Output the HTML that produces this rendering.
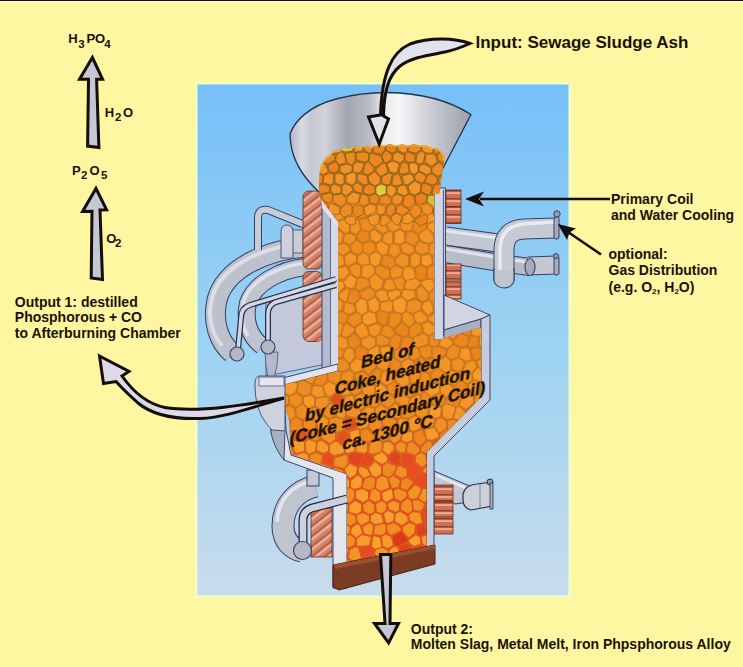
<!DOCTYPE html>
<html><head><meta charset="utf-8"><style>
html,body{margin:0;padding:0;background:#FEF6A0;}
body{width:743px;height:667px;overflow:hidden;}
svg{display:block;}
text{font-family:"Liberation Sans",sans-serif;font-weight:bold;fill:#1a1208;}
</style></head><body>
<svg width="743" height="667" viewBox="0 0 743 667">
<defs>
<linearGradient id="sky" x1="0" y1="0" x2="0" y2="1">
<stop offset="0" stop-color="#76C0F8"/>
<stop offset="0.5" stop-color="#9CD2F2"/>
<stop offset="1" stop-color="#C8DCEC"/>
</linearGradient>
<linearGradient id="funnel" gradientUnits="userSpaceOnUse" x1="289" y1="0" x2="471" y2="0">
<stop offset="0" stop-color="#B0B4C0"/>
<stop offset="0.07" stop-color="#D8DAE2"/>
<stop offset="0.12" stop-color="#C4C8D2"/>
<stop offset="0.2" stop-color="#D0D2DA"/>
<stop offset="0.32" stop-color="#A2A6B2"/>
<stop offset="0.44" stop-color="#B8BCC6"/>
<stop offset="0.52" stop-color="#EAEAEE"/>
<stop offset="0.6" stop-color="#F6F6F8"/>
<stop offset="0.68" stop-color="#E4E4E8"/>
<stop offset="0.82" stop-color="#C0C4CC"/>
<stop offset="1" stop-color="#9CA0AC"/>
</linearGradient>
<linearGradient id="pipe" x1="0" y1="0" x2="0" y2="1">
<stop offset="0" stop-color="#E8EAF0"/>
<stop offset="0.5" stop-color="#B8BCC8"/>
<stop offset="1" stop-color="#9498A8"/>
</linearGradient>
<pattern id="coke" x="0" y="0" width="24" height="22" patternUnits="userSpaceOnUse">
<rect width="24" height="22" fill="#B86A22"/>
<path d="M1 1h10v9h-10z" fill="#F0942C" stroke="#C07428" stroke-width="1"/>
<path d="M13 0h10v10h-10z" fill="#EC8C28"/>
<path d="M0 12h11v9h-11z" fill="#F29A30"/>
<path d="M12 11h11v10h-11z" fill="#EE9030"/>
</pattern>
<pattern id="cokehot" x="0" y="0" width="24" height="22" patternUnits="userSpaceOnUse">
<rect width="24" height="22" fill="#D8401C"/>
<path d="M1 1h10v9h-10z" fill="#F0942C"/>
<path d="M13 0h10v10h-10z" fill="#EC8228"/>
<path d="M0 12h11v9h-11z" fill="#F29A30"/>
<path d="M12 11h11v10h-11z" fill="#E8702A"/>
</pattern>
<pattern id="copper" x="0" y="0" width="8" height="8" patternUnits="userSpaceOnUse" patternTransform="rotate(-38)">
<rect width="8" height="8" fill="#D4826A"/><rect width="8" height="2.2" fill="#EEB096"/><rect y="5.8" width="8" height="1.1" fill="#9A4E38"/>
</pattern>
<pattern id="copper2" x="0" y="0" width="6" height="8" patternUnits="userSpaceOnUse">
<rect width="6" height="8" fill="#CC7056"/><rect width="6" height="2.2" fill="#EEA488"/><rect y="6" width="6" height="1.4" fill="#94442C"/>
</pattern>
<linearGradient id="gapgrad" gradientUnits="userSpaceOnUse" x1="0" y1="400" x2="0" y2="480"><stop offset="0" stop-color="#C87820"/><stop offset="1" stop-color="#DE5420"/></linearGradient>
</defs>

<!-- top dark line -->
<rect x="0" y="0" width="743" height="1" fill="#1a1208"/>
<rect x="0" y="1" width="743" height="1.5" fill="#FFFCE0"/>

<!-- sky rect -->
<rect x="194.5" y="81.5" width="378" height="517" fill="#FBFAA8"/>
<rect x="195.5" y="82.5" width="375" height="515" fill="#F4FCCC"/>
<rect x="197.5" y="84.5" width="371" height="511" fill="url(#sky)"/>

<!-- APPARATUS -->
<g id="app">
<!-- ===== back pipes left ===== -->
<g fill="none" stroke-linecap="butt">
<path d="M305,247 C270,250 226,266 217,300 C212,322 219,342 232,353" stroke="#34406A" stroke-width="21"/>
<path d="M305,247 C270,250 226,266 217,300 C212,322 219,342 232,353" stroke="#BDC1CC" stroke-width="19"/>
<path d="M305,243 C270,246 222,262 212,298 C207,318 212,334 222,346" stroke="#DCDEE6" stroke-width="4"/>
<path d="M305,267 C280,270 255,283 248,303 C244,320 249,336 262,346" stroke="#34406A" stroke-width="18"/>
<path d="M305,267 C280,270 255,283 248,303 C244,320 249,336 262,346" stroke="#C0C4CE" stroke-width="16"/>
<path d="M305,263 C280,266 252,279 244,300 C240,314 242,326 248,336" stroke="#E0E2EA" stroke-width="3.5"/>
<!-- L pipe -->
<path d="M258,250 L258,218 Q258,208 268,210 L305,225" stroke="#34406A" stroke-width="8"/>
<path d="M258,250 L258,218 Q258,208 268,210 L305,225" stroke="#C8CCD6" stroke-width="6"/>
</g>
<!-- small box -->
<rect x="292" y="230" width="11" height="23" fill="#C8CCD8" stroke="#4A5274" stroke-width="0.9"/>
<path d="M281,232 Q281,225 287,225 Q293,225 293,232 L293,258 L281,258 Z" fill="#CDD0DC" stroke="#4A5274" stroke-width="1"/>

<!-- lower-left box behind -->
<path d="M266,298 L322,292 L336,290 L336,362 L282,373 L266,376 Z" fill="#C4C8DC" stroke="#5A6282" stroke-width="1"/>
<path d="M265,352 L278,352 L277,366 L274,378 L268,378 L266,366 Z" fill="#B4B8CC" stroke="#4A5274" stroke-width="0.8"/>

<!-- ===== right pipes ===== -->
<g fill="none">
<path d="M446,254 L500,263 L530,267" stroke="#34406A" stroke-width="18"/>
<path d="M446,254 L500,263 L530,267" stroke="#B8BCC8" stroke-width="16"/>
<path d="M446,249 L500,258 L528,262" stroke="#E0E2EA" stroke-width="3"/>
<path d="M446,236 L498,243" stroke="#34406A" stroke-width="19"/>
<path d="M446,236 L498,243" stroke="#C4C8D2" stroke-width="17"/>
<path d="M446,231 L498,238" stroke="#E6E8EE" stroke-width="3"/>
<path d="M528,266 L557,265" stroke="#34406A" stroke-width="19"/>
<path d="M528,266 L557,265" stroke="#C4C8D2" stroke-width="17"/>
<path d="M504,280 L504,250 Q504,230 524,229 L556,228" stroke="#34406A" stroke-width="21"/>
<path d="M504,280 L504,250 Q504,230 524,229 L556,228" stroke="#C6CAD4" stroke-width="19"/>
<path d="M500,276 L500,250 Q500,226 524,224 L554,222" stroke="#E8EAF0" stroke-width="3.5"/>
</g>
<ellipse cx="504" cy="280" rx="10" ry="8" fill="#C0C4CE" stroke="#34406A" stroke-width="1.1"/>
<rect x="494" y="270" width="20" height="11" fill="#C0C4CE"/>
<line x1="494" y1="268" x2="494" y2="281" stroke="#34406A" stroke-width="1.1"/>
<line x1="514" y1="268" x2="514" y2="281" stroke="#34406A" stroke-width="1.1"/>
<ellipse cx="530" cy="267" rx="5" ry="8.5" fill="#A8ACBA" stroke="#34406A" stroke-width="1.1"/>
<rect x="554" y="217" width="5" height="22" rx="2" fill="#A8ACBA" stroke="#34406A"/>
<rect x="554" y="256" width="5" height="19" rx="2" fill="#A8ACBA" stroke="#34406A"/>
<circle cx="557" cy="214" r="3.2" fill="#9498A8" stroke="#34406A"/>
<circle cx="556" cy="256" r="2.5" fill="#9498A8" stroke="#34406A"/>

<!-- lower right pipe -->
<path d="M434,471 L472,487 L470,502 L455,504 L434,490 Z" fill="#C4C8D2" stroke="#34406A" stroke-width="1"/>
<path d="M436,475 L468,489" stroke="#E6E8EE" stroke-width="3"/>
<path d="M463,494 Q465,485 477,484 L492,482 L492,506 L471,510 Q463,508 463,500 Z" fill="#CDD0DA" stroke="#2A3050" stroke-width="1.2"/>
<path d="M480,484 L480,508" stroke="#6A7090" stroke-width="0.8"/>
<circle cx="490" cy="482" r="3" fill="#9498A8" stroke="#2A3050" stroke-width="1"/>
<rect x="490" y="483" width="3" height="26" fill="#A8ACBA" stroke="#2A3050" stroke-width="0.8"/>

<!-- lower left pipe -->
<g fill="none">
<path d="M316,486 C296,490 283,506 283,526 C283,541 292,549 302,551" stroke="#34406A" stroke-width="23"/>
<path d="M316,486 C296,490 283,506 283,526 C283,541 292,549 302,551" stroke="#C0C4CE" stroke-width="21"/>
<path d="M316,480 C292,484 278,500 277,522" stroke="#E4E6EE" stroke-width="3.5"/>
</g>
<rect x="307" y="470" width="12" height="16" fill="#C4C8D2" stroke="#34406A" stroke-width="1"/>

<!-- ===== coils ===== -->
<g stroke="#6A2A14" stroke-width="0.8">
<rect x="303" y="191" width="19.5" height="78" rx="6" fill="url(#copper)"/>
<rect x="303" y="271.5" width="19.5" height="70" rx="6" fill="url(#copper)"/>
<rect x="446" y="190" width="15" height="16.5" fill="url(#copper2)"/>
<rect x="446" y="207" width="15" height="16.5" fill="url(#copper2)"/>
<rect x="446" y="264" width="15" height="17" fill="url(#copper2)"/>
<rect x="446" y="282" width="15" height="17" fill="url(#copper2)"/>
<rect x="311" y="508" width="21" height="49" fill="url(#copper)"/>
<rect x="434" y="485" width="19" height="15.5" fill="url(#copper2)"/>
<rect x="434" y="501.5" width="19" height="15.5" fill="url(#copper2)"/>
<rect x="434" y="518" width="19" height="16" fill="url(#copper2)"/>
</g>

<!-- ===== funnel ===== -->
<path d="M290,134 C295,120 310,106 336,99 C355,94 370,92.5 387,92.5 C420,93 450,101 471,114.5 L442,170 L437,192 L319,192 C306,180 296,166 292,150 C291,145 290,140 290,134 Z" fill="url(#funnel)" stroke="#26304C" stroke-width="1.3"/>

<!-- ===== walls ===== -->
<g stroke="#3E4668" stroke-width="1">
<!-- left column wall -->
<path d="M322,196 L338,196 L338,366 L322,370 Z" fill="#B4BACE"/>
<path d="M330.5,205 L338,205 L338,366 L330.5,368 Z" fill="#D6DAE6" stroke="none"/>
<line x1="330.5" y1="210" x2="330.5" y2="367" stroke="#4A5274" stroke-width="0.8"/>
<path d="M321,198 L338,221 L338,228 L322,208 Z" fill="#E0E0F2" stroke="none"/>
<!-- right column wall -->
<rect x="434" y="188" width="11.5" height="152" fill="#D2D6E4"/>
<line x1="443.5" y1="190" x2="443.5" y2="336" stroke="#5A6282" stroke-width="1.2"/>
<!-- right step top face -->
<path d="M444,295 L490,315 L481,319 L444,330 Z" fill="#D2D4E2"/>
<path d="M444,330 L481,319 L481,328 L444,339 Z" fill="#A8AEC4"/>
<!-- right outer wall -->
<path d="M481,319 L490,315 L490,400 L434,456 L434,563 L426.5,563 L426.5,452 L481,397 Z" fill="#C6CCDC"/>
<!-- left horizontal band & wide wall -->
<path d="M271,381 L338,364 L338,371 L284,385 L286,430 L291,455 L347,474 L347,588 L333,588 L333,478 L284,460 L271,432 Z" fill="#E2E5EE"/>
<path d="M271,388 L284,385 L285,430 L284,460 C279,454 273,444 271,432 Z" fill="#A8AEC4"/>
</g>

<!-- ===== coke ===== -->
<clipPath id="cokeclip"><path id="cokepath" d="M319,194 L320,169 C322,162 326,157 331,154 Q334,149 339,151 Q343,146 349,149 Q354,145 360,148 Q366,144 372,147 Q378,143 384,146 Q390,143 396,146 Q402,143 408,146 Q414,143 420,146 Q427,144 432,148 Q439,148 441,152 Q445,154 444,160 L439,194 L434,194 L434,341 L481,327.5 L481,397 L426.5,452 L426.5,547 L347,564 L347,474 L291,454 L289,420 L284,404 L284,385 L338,371 L338,222 L321,199 Z"/></clipPath>
<g clip-path="url(#cokeclip)">
<rect x="270" y="140" width="230" height="440" fill="url(#gapgrad)"/>
<path d="M291,147 L291,145 L290,140 L285,138 L280,142 L279,146 L284,150Z" fill="#F09326"/>
<path d="M297,148 L302,147 L303,145 L302,139 L297,138 L292,141 L293,146Z" fill="#F19427"/>
<path d="M310,136 L308,136 L304,140 L305,146 L308,148 L313,147 L315,141Z" fill="#F29729"/>
<path d="M317,141 L315,147 L322,152 L324,152 L327,148 L327,142 L323,139Z" fill="#F39829"/>
<path d="M336,138 L329,141 L329,142 L330,147 L336,149 L341,146 L341,141 L341,139Z" fill="#F39829"/>
<path d="M352,139 L348,137 L343,140 L343,147 L349,151 L353,148Z" fill="#F39929"/>
<path d="M355,138 L354,139 L355,147 L365,148 L364,138 L363,136 L361,136Z" fill="#F69E2D"/>
<path d="M381,142 L376,136 L367,138 L367,147 L378,148 L380,147Z" fill="#EE8E23"/>
<path d="M383,142 L382,147 L388,151 L395,148 L394,140 L389,138Z" fill="#F19427"/>
<path d="M403,137 L396,141 L397,148 L402,150 L407,148 L407,139Z" fill="#ED8D23"/>
<path d="M422,140 L421,138 L415,136 L410,139 L409,140 L410,148 L414,150 L420,149Z" fill="#EF9024"/>
<path d="M424,138 L422,149 L425,150 L432,148 L432,139 L427,137Z" fill="#F09225"/>
<path d="M435,138 L434,139 L435,148 L440,151 L445,148 L446,139 L441,136Z" fill="#E0CC3A"/>
<path d="M458,150 L458,139 L455,138 L449,140 L448,149 L452,152Z" fill="#EB881F"/>
<path d="M461,139 L460,141 L460,150 L466,152 L469,149 L469,140 L466,138Z" fill="#EE8F23"/>
<path d="M480,151 L485,147 L484,143 L478,139 L471,140 L471,149Z" fill="#EF9024"/>
<path d="M494,135 L492,135 L486,143 L487,147 L490,148 L497,147 L499,141Z" fill="#E5D740"/>
<path d="M279,161 L284,159 L285,157 L284,152 L278,148 L272,152 L271,155Z" fill="#ED8C22"/>
<path d="M291,161 L295,159 L296,150 L293,148 L286,152 L287,158Z" fill="#EF9024"/>
<path d="M304,161 L307,160 L307,151 L303,148 L298,150 L297,158 L298,160Z" fill="#F29729"/>
<path d="M314,162 L322,158 L322,155 L313,149 L309,151 L309,159Z" fill="#F49A2A"/>
<path d="M324,157 L329,162 L336,159 L336,157 L335,151 L329,149 L324,154Z" fill="#EB881F"/>
<path d="M338,157 L343,159 L348,157 L349,154 L341,148 L337,151Z" fill="#F19427"/>
<path d="M356,149 L351,153 L351,157 L356,162 L364,159 L364,151 L363,150Z" fill="#EF9125"/>
<path d="M367,149 L366,150 L366,159 L369,161 L375,158 L377,151 L376,149Z" fill="#F59C2B"/>
<path d="M387,153 L381,149 L380,149 L379,150 L377,158 L383,163 L385,163 L388,160Z" fill="#DEC837"/>
<path d="M390,152 L389,154 L391,160 L396,162 L400,160 L401,151 L396,150Z" fill="#F69F2D"/>
<path d="M408,162 L410,162 L413,158 L413,152 L409,149 L403,152 L402,159 L403,160Z" fill="#EB8920"/>
<path d="M414,157 L420,161 L425,157 L423,152 L421,150 L415,152Z" fill="#F29728"/>
<path d="M427,151 L426,153 L427,157 L431,161 L438,156 L438,153 L434,149Z" fill="#F59C2B"/>
<path d="M451,161 L452,159 L450,153 L446,150 L440,153 L440,157 L445,163Z" fill="#F39829"/>
<path d="M464,159 L465,155 L460,152 L453,154 L453,160 L457,162Z" fill="#F59D2C"/>
<path d="M478,160 L479,159 L479,154 L479,152 L471,151 L467,154 L467,159 L470,162Z" fill="#F3992A"/>
<path d="M481,160 L483,162 L491,159 L489,150 L486,149 L482,152Z" fill="#EE8E23"/>
<path d="M270,171 L277,169 L278,163 L271,158 L265,165 L266,169Z" fill="#F29628"/>
<path d="M279,168 L280,170 L285,172 L290,168 L290,163 L286,160 L281,162Z" fill="#F09326"/>
<path d="M301,174 L303,163 L297,161 L293,162 L292,169 L299,174Z" fill="#F09326"/>
<path d="M304,172 L304,174 L311,175 L315,169 L314,164 L309,162 L305,163Z" fill="#F09326"/>
<path d="M317,168 L324,172 L329,169 L328,163 L323,160 L316,163Z" fill="#EF9125"/>
<path d="M331,163 L330,164 L332,169 L335,172 L340,171 L341,161 L337,160Z" fill="#EE8F23"/>
<path d="M354,165 L350,159 L344,161 L342,171 L349,174 L354,169Z" fill="#ED8D23"/>
<path d="M370,172 L370,170 L368,164 L365,162 L356,165 L356,169 L364,174Z" fill="#EC8A21"/>
<path d="M372,170 L375,172 L381,171 L382,165 L377,160 L375,160 L370,163Z" fill="#F19427"/>
<path d="M387,175 L389,175 L396,170 L395,164 L389,162 L385,165 L383,171Z" fill="#ED8D23"/>
<path d="M409,165 L401,162 L397,164 L398,169 L403,173 L410,170Z" fill="#F19426"/>
<path d="M411,164 L412,171 L419,169 L419,162 L414,160Z" fill="#F69F2D"/>
<path d="M422,162 L422,169 L429,170 L430,162 L426,160Z" fill="#F09225"/>
<path d="M442,172 L444,165 L439,159 L438,159 L433,163 L432,169Z" fill="#EF9125"/>
<path d="M452,173 L456,171 L456,165 L452,162 L446,165 L445,171 L446,172Z" fill="#F69E2D"/>
<path d="M458,171 L459,172 L467,174 L469,172 L469,164 L465,161 L459,164Z" fill="#ED8C22"/>
<path d="M480,162 L471,164 L471,172 L477,173 L482,169 L482,164Z" fill="#F29628"/>
<path d="M484,168 L492,172 L497,167 L498,165 L492,161 L484,164Z" fill="#F69E2D"/>
<path d="M274,182 L276,183 L283,181 L283,174 L278,171 L273,173 L272,174Z" fill="#F29628"/>
<path d="M298,177 L297,176 L291,171 L285,174 L286,181 L289,183 L296,182Z" fill="#F59D2C"/>
<path d="M303,175 L300,177 L298,182 L304,188 L312,181 L310,177Z" fill="#EF9125"/>
<path d="M317,183 L322,182 L323,175 L317,171 L312,177 L314,181Z" fill="#F69E2D"/>
<path d="M324,181 L324,182 L328,184 L333,181 L334,173 L330,171 L325,174Z" fill="#F49B2B"/>
<path d="M340,185 L342,185 L348,180 L347,176 L340,173 L336,174 L335,181Z" fill="#EB8820"/>
<path d="M354,184 L362,183 L363,177 L355,171 L349,176 L350,180Z" fill="#EB8920"/>
<path d="M364,183 L367,186 L374,183 L373,173 L371,173 L366,176Z" fill="#EB881F"/>
<path d="M382,185 L388,181 L387,178 L382,173 L376,174 L376,183Z" fill="#ED8C22"/>
<path d="M390,181 L391,183 L400,181 L402,174 L397,172 L389,177Z" fill="#E0CD3A"/>
<path d="M413,181 L414,179 L412,173 L410,172 L404,175 L403,181 L405,184Z" fill="#F59D2C"/>
<path d="M426,181 L428,174 L427,172 L421,170 L415,173 L416,180 L420,184 L422,184Z" fill="#EF9024"/>
<path d="M432,172 L430,173 L428,181 L436,185 L440,184 L441,175Z" fill="#F49B2B"/>
<path d="M452,176 L451,175 L443,174 L442,184 L446,186 L452,183Z" fill="#F59C2B"/>
<path d="M460,185 L465,183 L466,177 L457,173 L454,175 L454,182Z" fill="#F29628"/>
<path d="M479,184 L480,182 L476,175 L470,174 L468,176 L467,183 L471,186Z" fill="#F59D2C"/>
<path d="M483,183 L485,183 L490,180 L490,174 L484,170 L478,175Z" fill="#EF9024"/>
<path d="M282,197 L284,197 L287,193 L288,185 L285,183 L276,186 L278,194Z" fill="#F59C2C"/>
<path d="M297,184 L290,185 L289,193 L298,196 L302,193 L302,190Z" fill="#ED8D22"/>
<path d="M317,185 L316,184 L313,183 L305,190 L305,193 L311,197 L315,196Z" fill="#EE8F24"/>
<path d="M320,196 L328,192 L327,186 L323,184 L318,185 L318,195Z" fill="#EF9024"/>
<path d="M330,192 L337,196 L340,194 L340,187 L333,183 L329,186Z" fill="#EB8920"/>
<path d="M350,197 L352,196 L354,186 L349,182 L342,187 L342,193 L343,194Z" fill="#F69F2D"/>
<path d="M356,186 L355,187 L354,196 L364,198 L367,194 L366,188 L362,185Z" fill="#F09226"/>
<path d="M378,195 L380,188 L380,186 L375,185 L368,188 L370,194 L375,196Z" fill="#EB881F"/>
<path d="M381,195 L389,196 L392,192 L390,185 L389,184 L382,187 L381,193Z" fill="#F49B2B"/>
<path d="M393,191 L404,195 L405,193 L404,186 L401,183 L393,184 L392,186Z" fill="#F69E2C"/>
<path d="M419,192 L420,186 L416,182 L406,187 L406,193 L407,194 L414,195Z" fill="#EC8B21"/>
<path d="M427,195 L432,194 L434,187 L434,186 L427,183 L422,186 L421,191Z" fill="#F19527"/>
<path d="M434,193 L434,195 L439,198 L445,195 L446,194 L445,188 L441,185 L437,187Z" fill="#EE8F24"/>
<path d="M459,188 L459,187 L453,184 L447,188 L448,195 L451,196 L457,194Z" fill="#ED8D23"/>
<path d="M466,198 L471,195 L470,188 L466,185 L462,187 L460,193 L460,194Z" fill="#ED8C22"/>
<path d="M483,187 L481,186 L473,188 L473,195 L479,198 L482,196Z" fill="#F59D2C"/>
<path d="M491,183 L485,186 L485,196 L492,198 L497,193 L497,187Z" fill="#F39829"/>
<path d="M271,206 L272,208 L278,208 L283,203 L282,199 L277,196 L272,198Z" fill="#F08F22"/>
<path d="M285,198 L285,203 L293,207 L295,206 L296,197 L288,195Z" fill="#EE8A1F"/>
<path d="M308,204 L309,199 L303,195 L299,198 L297,207 L300,209Z" fill="#EF8C20"/>
<path d="M320,199 L316,197 L311,200 L311,204 L316,210 L323,206Z" fill="#F69B29"/>
<path d="M323,197 L322,199 L326,206 L330,207 L335,203 L335,198 L329,195Z" fill="#EF8C20"/>
<path d="M337,198 L337,203 L345,208 L349,205 L350,199 L349,198 L341,196Z" fill="#F19123"/>
<path d="M351,204 L352,206 L358,209 L363,204 L363,201 L362,200 L353,198Z" fill="#F69A29"/>
<path d="M376,205 L376,203 L375,198 L369,196 L365,200 L365,203 L369,208Z" fill="#EE8B1F"/>
<path d="M388,199 L387,198 L380,196 L377,198 L379,204 L382,207 L388,205Z" fill="#F49727"/>
<path d="M390,197 L391,205 L395,207 L400,205 L402,198 L402,196 L394,194Z" fill="#EC861D"/>
<path d="M405,196 L403,205 L409,209 L415,208 L414,197Z" fill="#F39526"/>
<path d="M426,197 L421,193 L416,197 L417,208 L420,210 L426,207Z" fill="#F49727"/>
<path d="M429,197 L428,198 L428,206 L432,208 L437,206 L438,200 L433,196Z" fill="#F59827"/>
<path d="M439,205 L439,206 L445,209 L451,203 L450,198 L447,197 L440,199Z" fill="#F69B29"/>
<path d="M465,205 L465,200 L458,195 L452,199 L453,203 L458,207Z" fill="#F39525"/>
<path d="M473,197 L467,200 L467,206 L469,208 L478,205 L478,200Z" fill="#F69B29"/>
<path d="M485,198 L480,200 L480,205 L486,211 L492,204 L491,200Z" fill="#EE8A1F"/>
<path d="M292,210 L292,208 L284,205 L279,210 L282,217 L284,219 L287,218Z" fill="#F19023"/>
<path d="M296,209 L294,210 L289,218 L290,219 L297,221 L301,218 L299,211Z" fill="#ED891E"/>
<path d="M310,206 L309,206 L301,210 L304,218 L310,219 L314,215 L315,212Z" fill="#EC861C"/>
<path d="M325,208 L317,212 L317,215 L323,218 L329,216 L329,209Z" fill="#F08E21"/>
<path d="M337,205 L335,205 L331,209 L332,216 L338,220 L343,218 L344,211Z" fill="#F39525"/>
<path d="M346,210 L346,218 L350,219 L357,218 L357,212 L351,207 L350,207Z" fill="#F49626"/>
<path d="M359,217 L361,218 L368,216 L368,210 L365,206 L363,206 L359,211Z" fill="#EB841B"/>
<path d="M380,209 L377,206 L371,210 L371,217 L375,219 L379,218Z" fill="#F69A29"/>
<path d="M390,207 L382,209 L381,217 L382,218 L385,219 L393,216 L394,209Z" fill="#ED891F"/>
<path d="M402,207 L400,207 L396,210 L396,216 L400,220 L405,217 L407,211Z" fill="#EE8B1F"/>
<path d="M417,210 L409,211 L408,217 L413,220 L414,220 L419,216 L419,212Z" fill="#F49727"/>
<path d="M434,220 L434,218 L431,210 L427,209 L421,212 L421,216 L427,223Z" fill="#F59928"/>
<path d="M441,220 L445,218 L444,211 L438,208 L434,209 L433,211 L436,218Z" fill="#F39526"/>
<path d="M446,216 L447,218 L455,219 L457,208 L453,205 L451,205 L446,211Z" fill="#EE8B20"/>
<path d="M466,208 L459,209 L457,217 L458,219 L466,220 L469,218 L469,211Z" fill="#F08F22"/>
<path d="M484,214 L484,212 L478,207 L471,211 L471,217 L472,218 L477,219Z" fill="#F59827"/>
<path d="M487,213 L487,215 L493,220 L497,217 L498,209 L493,206Z" fill="#EF8C20"/>
<path d="M282,231 L283,229 L283,221 L281,219 L271,223 L271,229 L276,232Z" fill="#F49727"/>
<path d="M288,220 L285,221 L285,230 L290,233 L295,230 L296,224Z" fill="#F49626"/>
<path d="M304,220 L298,223 L298,230 L298,231 L303,233 L311,229 L309,222Z" fill="#F08F22"/>
<path d="M316,217 L315,217 L311,222 L313,229 L316,231 L322,230 L322,228 L322,220Z" fill="#F59928"/>
<path d="M335,227 L336,222 L331,217 L325,219 L324,221 L324,229 L331,230Z" fill="#EF8D21"/>
<path d="M345,220 L338,222 L337,226 L345,233 L348,232 L349,230 L349,222Z" fill="#F39526"/>
<path d="M352,221 L351,222 L351,231 L356,234 L360,229 L358,221 L357,220Z" fill="#F29324"/>
<path d="M370,218 L360,220 L362,229 L369,231 L373,228 L374,221Z" fill="#EE8B20"/>
<path d="M380,220 L376,221 L375,227 L383,233 L387,231 L387,230 L384,221Z" fill="#F19023"/>
<path d="M395,218 L393,218 L386,221 L390,230 L393,231 L399,228 L399,222Z" fill="#F29224"/>
<path d="M405,231 L411,230 L413,223 L412,222 L406,219 L401,222 L401,228Z" fill="#F19023"/>
<path d="M426,228 L426,225 L420,218 L415,222 L413,230 L418,233Z" fill="#EC861D"/>
<path d="M440,230 L441,223 L440,221 L436,221 L428,225 L428,228 L434,233Z" fill="#F69B29"/>
<path d="M447,232 L448,232 L454,228 L453,221 L446,219 L443,221 L443,229Z" fill="#F69B29"/>
<path d="M457,221 L456,222 L456,228 L461,232 L466,230 L466,222Z" fill="#EB841C"/>
<path d="M477,221 L471,219 L468,222 L468,230 L473,233 L474,233 L479,228Z" fill="#F69A29"/>
<path d="M488,229 L491,228 L491,222 L485,216 L479,219 L479,221 L481,227Z" fill="#F19023"/>
<path d="M288,236 L284,232 L278,234 L276,243 L282,245 L288,240Z" fill="#EC871D"/>
<path d="M296,245 L298,246 L302,242 L302,235 L296,232 L290,236 L291,240Z" fill="#F49727"/>
<path d="M304,241 L305,243 L311,245 L315,242 L315,233 L311,231 L305,235Z" fill="#F08E21"/>
<path d="M317,241 L323,244 L330,241 L330,233 L324,231 L318,233Z" fill="#F39525"/>
<path d="M341,242 L343,234 L335,229 L332,232 L333,241 L337,244Z" fill="#F49727"/>
<path d="M355,240 L355,236 L350,234 L345,235 L344,241 L345,242 L350,244Z" fill="#F19023"/>
<path d="M362,242 L369,240 L368,232 L361,231 L357,236 L358,239Z" fill="#EB851C"/>
<path d="M371,239 L376,242 L380,240 L381,235 L374,230 L371,232Z" fill="#F49727"/>
<path d="M384,235 L383,241 L389,244 L392,243 L392,233 L389,232Z" fill="#F39425"/>
<path d="M404,233 L400,230 L395,233 L395,243 L401,244 L404,241Z" fill="#F59928"/>
<path d="M414,245 L415,244 L418,240 L417,235 L412,232 L407,233 L406,241Z" fill="#EE8A1F"/>
<path d="M429,243 L433,241 L433,235 L427,229 L420,234 L419,235 L421,240Z" fill="#F49626"/>
<path d="M440,244 L448,240 L447,234 L442,231 L435,236 L435,241Z" fill="#F59828"/>
<path d="M454,230 L449,235 L450,241 L459,239 L460,234 L455,230Z" fill="#EF8C20"/>
<path d="M462,234 L461,241 L466,245 L474,239 L473,235 L467,232Z" fill="#EF8D21"/>
<path d="M487,232 L486,231 L480,229 L475,235 L476,239 L480,242 L484,241Z" fill="#EF8C20"/>
<path d="M490,231 L486,241 L493,244 L498,241 L498,239 L496,232 L492,230Z" fill="#EB841B"/>
<path d="M275,244 L273,245 L270,254 L270,255 L276,257 L282,252 L281,248Z" fill="#ED891E"/>
<path d="M296,248 L290,242 L283,248 L284,252 L290,255 L295,252Z" fill="#EE8B20"/>
<path d="M304,257 L306,257 L310,255 L310,247 L309,246 L303,244 L298,248 L298,251Z" fill="#EC861D"/>
<path d="M312,253 L312,255 L316,256 L322,252 L322,246 L317,243 L313,246Z" fill="#F49626"/>
<path d="M324,251 L329,256 L331,256 L336,252 L336,246 L331,243 L325,246 L324,247Z" fill="#F08E21"/>
<path d="M349,251 L350,250 L348,246 L343,244 L338,246 L338,252 L343,255Z" fill="#F19123"/>
<path d="M362,245 L358,241 L356,241 L351,246 L352,251 L358,254 L362,251Z" fill="#EE8A1F"/>
<path d="M364,244 L363,245 L364,252 L369,254 L375,250 L374,244 L370,242Z" fill="#EF8C20"/>
<path d="M377,250 L383,255 L387,253 L388,246 L381,242 L377,244Z" fill="#F49626"/>
<path d="M394,257 L395,257 L400,252 L399,246 L394,244 L390,246 L389,253Z" fill="#F08F22"/>
<path d="M414,251 L413,247 L405,243 L401,246 L403,252 L409,254Z" fill="#F29224"/>
<path d="M421,254 L428,252 L428,245 L419,242 L416,247 L416,251Z" fill="#F08E21"/>
<path d="M429,252 L432,255 L439,253 L440,246 L434,243 L431,244Z" fill="#F19123"/>
<path d="M442,253 L446,257 L451,254 L449,243 L442,245Z" fill="#F59928"/>
<path d="M460,242 L452,244 L454,254 L459,255 L464,251 L465,247Z" fill="#EE8A1F"/>
<path d="M467,247 L467,252 L472,256 L479,253 L480,244 L479,243 L475,242Z" fill="#F19023"/>
<path d="M481,252 L482,253 L486,255 L491,254 L492,252 L492,247 L485,243 L482,243Z" fill="#F39425"/>
<path d="M278,264 L283,267 L288,265 L289,257 L282,254 L277,259Z" fill="#EC861C"/>
<path d="M302,266 L304,259 L297,254 L296,254 L291,257 L291,265 L297,267Z" fill="#F69B29"/>
<path d="M307,267 L317,265 L315,258 L311,256 L306,259 L305,265Z" fill="#F08F22"/>
<path d="M320,265 L329,260 L329,258 L324,254 L318,258Z" fill="#ED891F"/>
<path d="M331,261 L337,267 L344,264 L343,257 L338,254 L332,258Z" fill="#F49626"/>
<path d="M356,256 L350,253 L345,257 L346,264 L348,266 L356,261Z" fill="#F49727"/>
<path d="M363,253 L358,257 L358,262 L362,265 L368,264 L369,263 L368,256Z" fill="#F29324"/>
<path d="M376,252 L370,256 L371,264 L376,266 L379,264 L381,256Z" fill="#F59928"/>
<path d="M384,256 L382,264 L391,268 L395,264 L394,259 L388,256Z" fill="#EC861C"/>
<path d="M396,263 L403,267 L408,265 L408,256 L401,254 L396,259Z" fill="#F19023"/>
<path d="M419,264 L420,256 L415,253 L411,256 L411,265 L414,267Z" fill="#F39526"/>
<path d="M429,255 L423,256 L422,257 L422,264 L427,266 L432,263 L431,257Z" fill="#F69A28"/>
<path d="M434,257 L433,258 L434,263 L438,266 L445,261 L445,259 L441,255Z" fill="#F29324"/>
<path d="M448,259 L447,262 L453,267 L458,266 L457,256 L453,256Z" fill="#F29224"/>
<path d="M465,254 L460,257 L460,265 L464,267 L471,261 L471,259Z" fill="#EF8D21"/>
<path d="M481,255 L473,259 L473,261 L477,265 L484,263 L485,257Z" fill="#F19123"/>
<path d="M492,255 L487,258 L486,264 L492,268 L495,263 L495,257Z" fill="#F19123"/>
<path d="M271,270 L271,271 L272,275 L278,278 L282,276 L283,269 L278,266Z" fill="#F59928"/>
<path d="M284,276 L289,279 L294,277 L296,269 L289,266 L285,269Z" fill="#F49727"/>
<path d="M307,270 L304,267 L298,269 L297,278 L301,281 L303,280 L308,275Z" fill="#F39526"/>
<path d="M320,268 L319,266 L309,269 L309,271 L310,275 L317,278 L321,274Z" fill="#F69A28"/>
<path d="M329,263 L322,268 L323,274 L333,276 L335,268 L331,263Z" fill="#EB851C"/>
<path d="M335,276 L336,278 L343,279 L349,273 L347,268 L345,267 L337,269Z" fill="#F49626"/>
<path d="M357,277 L360,275 L360,266 L356,264 L350,267 L351,273Z" fill="#F08F22"/>
<path d="M368,278 L374,273 L374,268 L370,265 L364,266 L363,268 L362,276Z" fill="#F49626"/>
<path d="M384,279 L389,277 L389,270 L380,266 L376,268 L376,273Z" fill="#EE8B1F"/>
<path d="M391,276 L393,278 L401,276 L402,269 L395,266 L391,270Z" fill="#F08F22"/>
<path d="M403,276 L406,280 L414,278 L415,276 L413,269 L409,267 L404,268Z" fill="#F49727"/>
<path d="M426,269 L426,268 L421,266 L416,268 L417,278 L421,280 L425,278Z" fill="#EB841C"/>
<path d="M433,266 L428,268 L428,277 L429,278 L434,279 L439,275 L438,268Z" fill="#EE8A1F"/>
<path d="M447,264 L445,264 L440,268 L441,275 L447,278 L451,276 L452,270Z" fill="#F08F22"/>
<path d="M455,269 L453,275 L454,276 L461,279 L465,277 L463,269 L459,268Z" fill="#F59827"/>
<path d="M473,264 L471,263 L465,269 L467,276 L473,277 L476,275 L476,267Z" fill="#EE8A1F"/>
<path d="M485,266 L478,268 L478,274 L478,275 L484,278 L491,275 L492,274 L491,270Z" fill="#F49727"/>
<path d="M284,278 L279,280 L277,285 L282,290 L288,286 L287,281Z" fill="#ED891F"/>
<path d="M290,281 L290,282 L290,286 L295,290 L296,290 L301,287 L301,283 L296,279Z" fill="#EE8B1F"/>
<path d="M309,290 L311,290 L316,285 L316,280 L310,277 L303,283 L304,287Z" fill="#F19123"/>
<path d="M323,276 L318,280 L318,285 L327,289 L330,287 L332,279Z" fill="#F29325"/>
<path d="M343,282 L334,280 L332,288 L339,292 L344,287Z" fill="#F59928"/>
<path d="M351,288 L354,287 L356,279 L350,275 L344,282 L347,287Z" fill="#F59928"/>
<path d="M368,286 L369,285 L368,280 L361,278 L358,279 L356,288 L358,290 L360,290Z" fill="#EE8A1F"/>
<path d="M381,288 L383,281 L376,275 L374,275 L370,279 L371,286 L376,290Z" fill="#F39526"/>
<path d="M386,281 L384,288 L387,290 L394,289 L395,287 L392,280 L390,279Z" fill="#F29324"/>
<path d="M395,279 L394,281 L397,288 L402,290 L403,288 L404,281 L402,278Z" fill="#EF8D21"/>
<path d="M407,281 L405,287 L407,289 L415,289 L420,283 L419,282 L416,279Z" fill="#F49626"/>
<path d="M433,282 L432,280 L427,280 L422,282 L421,283 L429,292 L434,287Z" fill="#F59928"/>
<path d="M440,277 L435,281 L436,287 L440,289 L442,289 L446,286 L445,279Z" fill="#F08F22"/>
<path d="M452,278 L448,280 L448,285 L454,290 L455,291 L460,288 L460,281Z" fill="#F59928"/>
<path d="M462,288 L464,289 L472,288 L472,279 L467,278 L463,281Z" fill="#EC871D"/>
<path d="M477,277 L474,279 L474,288 L479,291 L482,289 L483,280Z" fill="#EC871D"/>
<path d="M486,279 L485,280 L485,289 L492,290 L497,287 L496,279 L493,277Z" fill="#F49626"/>
<path d="M277,288 L272,289 L271,291 L274,300 L277,301 L281,299 L282,293Z" fill="#EE8B1F"/>
<path d="M290,289 L288,289 L284,292 L283,298 L284,299 L290,301 L294,298 L295,293Z" fill="#F29224"/>
<path d="M309,300 L310,299 L309,292 L303,289 L297,292 L296,297 L297,299 L305,301Z" fill="#F08F22"/>
<path d="M312,299 L315,302 L324,298 L325,291 L317,287 L312,292Z" fill="#EC871D"/>
<path d="M331,290 L327,291 L326,297 L331,302 L338,298 L337,294Z" fill="#F49626"/>
<path d="M344,301 L346,301 L349,291 L349,290 L347,289 L339,294 L340,298Z" fill="#F39526"/>
<path d="M355,290 L351,291 L348,300 L349,302 L354,303 L359,298 L358,292Z" fill="#EC871D"/>
<path d="M375,292 L370,288 L361,292 L360,293 L362,297 L367,300 L374,296Z" fill="#EE8A1F"/>
<path d="M383,290 L377,292 L376,295 L381,301 L387,300 L388,298 L386,292Z" fill="#F49727"/>
<path d="M390,292 L388,293 L390,299 L392,300 L400,295 L400,292 L397,290Z" fill="#F59928"/>
<path d="M403,291 L402,296 L407,300 L415,297 L414,291 L405,290Z" fill="#F59828"/>
<path d="M417,290 L418,298 L423,301 L427,299 L428,294 L422,287 L420,287Z" fill="#F19022"/>
<path d="M436,289 L435,289 L430,294 L430,300 L432,301 L440,298 L440,292Z" fill="#EF8C20"/>
<path d="M442,291 L443,299 L445,300 L452,296 L453,292 L448,288 L447,288Z" fill="#F08E22"/>
<path d="M455,293 L454,298 L460,303 L465,301 L462,290Z" fill="#ED881E"/>
<path d="M467,301 L471,302 L477,299 L478,293 L473,290 L465,291 L465,292Z" fill="#F08F22"/>
<path d="M490,301 L491,299 L491,292 L483,291 L480,293 L480,299 L484,302Z" fill="#ED891E"/>
<path d="M282,301 L278,303 L279,313 L282,314 L290,310 L289,303Z" fill="#EC871D"/>
<path d="M292,309 L296,314 L298,314 L300,312 L303,303 L295,300 L291,303Z" fill="#EF8D21"/>
<path d="M312,302 L306,304 L303,311 L303,313 L312,314 L315,312 L314,304Z" fill="#EB851C"/>
<path d="M317,303 L316,305 L317,311 L319,312 L330,308 L330,304 L325,300Z" fill="#F08F22"/>
<path d="M341,310 L343,303 L339,300 L338,300 L332,304 L332,309 L335,312Z" fill="#F39425"/>
<path d="M345,304 L344,311 L348,314 L355,311 L353,305 L347,303Z" fill="#F29324"/>
<path d="M356,304 L357,311 L361,314 L363,314 L367,311 L366,301 L361,299Z" fill="#F69B29"/>
<path d="M374,298 L368,302 L370,310 L375,312 L378,310 L379,303 L375,298Z" fill="#F59928"/>
<path d="M390,301 L381,303 L381,310 L389,312 L392,311 L392,303Z" fill="#F29324"/>
<path d="M394,301 L393,303 L395,311 L401,313 L405,311 L406,302 L402,298 L400,298Z" fill="#F59928"/>
<path d="M407,310 L408,311 L413,313 L420,309 L421,303 L416,300 L408,302Z" fill="#F08E22"/>
<path d="M429,301 L424,303 L422,308 L428,315 L433,311 L431,303Z" fill="#F49727"/>
<path d="M439,313 L446,310 L444,302 L441,301 L434,302 L433,303 L435,311Z" fill="#EE8A1F"/>
<path d="M451,313 L456,311 L458,305 L452,299 L446,302 L448,310Z" fill="#F19023"/>
<path d="M461,305 L458,309 L459,311 L468,314 L470,312 L470,304 L467,303Z" fill="#F69B29"/>
<path d="M477,314 L479,314 L483,310 L483,304 L478,301 L472,305 L472,312Z" fill="#F29224"/>
<path d="M485,310 L492,313 L497,310 L497,306 L492,302 L486,303 L485,305Z" fill="#F19022"/>
<path d="M278,315 L271,317 L270,321 L278,324 L281,322 L281,316Z" fill="#F49626"/>
<path d="M283,315 L283,317 L284,322 L292,325 L295,323 L296,316 L291,312Z" fill="#EE8B20"/>
<path d="M308,323 L311,318 L310,316 L301,314 L298,316 L298,323 L301,324Z" fill="#F49727"/>
<path d="M314,326 L315,327 L323,322 L319,314 L317,313 L313,317 L311,323Z" fill="#EB841B"/>
<path d="M334,321 L334,314 L331,311 L322,314 L325,322 L329,324Z" fill="#ED891F"/>
<path d="M344,323 L346,322 L347,315 L342,312 L337,314 L336,320Z" fill="#ED881E"/>
<path d="M361,322 L361,316 L357,313 L349,317 L348,322 L354,326Z" fill="#EE8A1F"/>
<path d="M367,325 L376,322 L375,314 L369,312 L363,316 L363,322Z" fill="#F69A29"/>
<path d="M378,321 L383,325 L386,324 L388,314 L380,311 L378,313 L377,314Z" fill="#EB841B"/>
<path d="M401,316 L400,314 L394,313 L391,314 L389,325 L393,327 L395,327 L400,321Z" fill="#EE8B1F"/>
<path d="M403,314 L403,321 L408,326 L410,326 L414,322 L412,315 L406,312Z" fill="#F19123"/>
<path d="M421,323 L426,320 L427,317 L420,311 L415,314 L414,315 L416,321Z" fill="#F39425"/>
<path d="M435,324 L438,322 L439,316 L435,314 L429,317 L428,319Z" fill="#F49626"/>
<path d="M448,324 L453,321 L451,315 L447,312 L441,315 L440,321 L441,323Z" fill="#EF8D21"/>
<path d="M454,321 L458,324 L465,321 L467,316 L456,312 L453,315Z" fill="#ED891E"/>
<path d="M469,316 L468,322 L472,325 L478,321 L477,317 L472,314Z" fill="#F59827"/>
<path d="M480,321 L483,324 L489,321 L490,315 L484,313 L479,316Z" fill="#EC861D"/>
<path d="M268,334 L276,332 L277,326 L270,323 L269,324 L265,329 L266,333Z" fill="#EB851C"/>
<path d="M288,334 L291,328 L290,327 L283,323 L279,326 L279,333 L284,336Z" fill="#ED891E"/>
<path d="M297,325 L293,327 L291,333 L295,338 L302,336 L303,335 L300,326Z" fill="#F08F22"/>
<path d="M313,329 L309,325 L303,327 L306,335 L309,337 L313,334Z" fill="#F69A29"/>
<path d="M329,327 L324,324 L316,329 L315,333 L326,337 L329,334Z" fill="#F39526"/>
<path d="M343,326 L342,324 L335,322 L330,326 L332,334 L336,336 L340,335Z" fill="#F19123"/>
<path d="M347,324 L345,325 L342,334 L343,336 L346,337 L353,332 L354,329 L353,328Z" fill="#F19023"/>
<path d="M368,335 L368,333 L366,327 L363,324 L361,324 L356,328 L356,332 L361,338Z" fill="#F39425"/>
<path d="M374,336 L379,334 L381,327 L377,324 L369,327 L370,334Z" fill="#F29324"/>
<path d="M389,337 L391,337 L394,334 L393,330 L388,326 L384,327 L381,334Z" fill="#EF8C20"/>
<path d="M403,324 L401,324 L396,329 L396,332 L403,336 L407,335 L408,334 L408,328Z" fill="#EC861C"/>
<path d="M421,326 L416,323 L415,324 L410,328 L410,336 L413,337 L421,332Z" fill="#ED881E"/>
<path d="M434,332 L435,327 L434,326 L427,322 L423,325 L424,332 L429,335Z" fill="#F49626"/>
<path d="M436,331 L441,334 L445,334 L447,327 L439,324 L437,326Z" fill="#F29324"/>
<path d="M450,326 L447,334 L453,339 L459,332 L458,326 L454,323Z" fill="#F49727"/>
<path d="M468,335 L470,334 L470,326 L466,323 L460,325 L460,326 L461,332Z" fill="#EB851C"/>
<path d="M472,333 L473,335 L478,336 L482,334 L482,325 L479,324 L473,327Z" fill="#F59928"/>
<path d="M490,337 L494,334 L495,328 L490,323 L485,325 L484,326 L484,334Z" fill="#EF8D21"/>
<path d="M271,336 L270,337 L272,345 L280,346 L283,337 L278,334Z" fill="#F69A28"/>
<path d="M282,346 L283,348 L292,350 L295,346 L294,340 L290,336 L286,337Z" fill="#F29224"/>
<path d="M308,347 L309,346 L308,338 L305,337 L297,340 L298,346Z" fill="#F19123"/>
<path d="M323,346 L325,340 L324,338 L315,336 L311,338 L312,347 L317,350Z" fill="#F49727"/>
<path d="M331,350 L333,350 L336,347 L335,338 L331,336 L327,339 L326,345Z" fill="#F29324"/>
<path d="M344,349 L348,346 L346,339 L341,337 L338,337 L337,339 L338,347Z" fill="#F39425"/>
<path d="M360,341 L354,334 L348,339 L350,346 L354,348 L359,345Z" fill="#EC871D"/>
<path d="M375,339 L369,336 L362,340 L362,345 L369,349 L375,345Z" fill="#F29224"/>
<path d="M377,337 L377,344 L379,345 L388,344 L389,340 L388,339 L380,335Z" fill="#EF8C20"/>
<path d="M390,344 L394,349 L398,348 L401,337 L395,335 L391,339Z" fill="#EB851C"/>
<path d="M408,350 L413,346 L412,339 L408,337 L404,338 L401,347Z" fill="#EC871D"/>
<path d="M428,337 L423,334 L414,338 L414,340 L415,345 L418,347 L427,344Z" fill="#F08F22"/>
<path d="M432,346 L437,345 L438,344 L440,336 L436,333 L430,337 L430,344Z" fill="#EE8A1F"/>
<path d="M440,344 L441,346 L447,348 L452,344 L452,342 L446,336 L443,336 L442,337Z" fill="#F49626"/>
<path d="M461,347 L467,345 L468,337 L460,334 L454,341 L454,343Z" fill="#EC861D"/>
<path d="M470,347 L478,346 L477,337 L471,337 L468,346Z" fill="#EB841B"/>
<path d="M480,345 L485,349 L486,349 L490,346 L489,338 L483,336 L480,337Z" fill="#F69B29"/>
<path d="M280,357 L285,361 L292,359 L293,357 L291,352 L282,350 L281,351Z" fill="#EE8B20"/>
<path d="M302,357 L305,349 L296,348 L293,352 L295,358 L297,359Z" fill="#F19022"/>
<path d="M316,355 L316,351 L310,348 L308,349 L305,357 L311,362Z" fill="#ED891E"/>
<path d="M331,353 L324,347 L318,352 L319,355 L325,360 L331,356Z" fill="#ED891E"/>
<path d="M337,358 L342,356 L343,350 L337,349 L333,352 L334,357Z" fill="#EF8D21"/>
<path d="M349,362 L350,362 L354,357 L353,350 L349,348 L345,351 L344,357Z" fill="#F49626"/>
<path d="M365,360 L367,359 L367,350 L360,347 L356,349 L356,357Z" fill="#EB841C"/>
<path d="M369,358 L370,360 L375,361 L379,357 L378,347 L376,347 L369,351Z" fill="#F59827"/>
<path d="M389,347 L381,348 L382,356 L391,357 L392,356 L393,351Z" fill="#F69B29"/>
<path d="M396,351 L395,357 L401,361 L408,357 L408,353 L407,352 L399,349Z" fill="#F19123"/>
<path d="M419,357 L420,355 L417,348 L414,348 L410,352 L410,357 L413,360Z" fill="#EF8C20"/>
<path d="M426,358 L431,356 L431,348 L429,346 L421,348 L420,349 L422,356Z" fill="#ED891E"/>
<path d="M436,359 L445,355 L445,350 L439,347 L433,348 L433,357Z" fill="#ED881E"/>
<path d="M447,355 L451,359 L458,357 L459,348 L453,345 L448,350Z" fill="#EE8B20"/>
<path d="M469,350 L467,348 L461,349 L460,357 L466,361 L471,359Z" fill="#F59827"/>
<path d="M472,349 L471,351 L474,359 L476,360 L484,355 L484,351 L479,348Z" fill="#EB841B"/>
<path d="M486,354 L492,361 L498,356 L497,351 L491,348 L487,351Z" fill="#F49626"/>
<path d="M281,369 L283,363 L279,359 L271,362 L271,367 L274,370Z" fill="#F39425"/>
<path d="M284,368 L288,371 L296,367 L295,360 L285,364Z" fill="#EB841B"/>
<path d="M310,365 L304,359 L297,362 L298,367 L302,371 L310,367Z" fill="#EB851C"/>
<path d="M319,357 L317,357 L312,364 L312,367 L319,371 L324,369 L324,362Z" fill="#F39526"/>
<path d="M326,369 L327,371 L335,369 L335,360 L332,358 L326,361Z" fill="#F39425"/>
<path d="M342,371 L349,368 L348,364 L343,359 L338,360 L338,369Z" fill="#EE8B20"/>
<path d="M364,363 L363,361 L356,359 L351,364 L351,369 L355,372 L361,370Z" fill="#F59828"/>
<path d="M367,361 L364,370 L369,374 L376,366 L374,363Z" fill="#ED891E"/>
<path d="M377,362 L378,367 L383,370 L386,369 L387,369 L390,360 L389,359 L382,358Z" fill="#F08E21"/>
<path d="M394,359 L392,359 L389,369 L396,374 L401,369 L400,363Z" fill="#EC861D"/>
<path d="M408,372 L413,369 L414,368 L413,362 L408,359 L402,363 L403,370Z" fill="#F29324"/>
<path d="M421,370 L423,369 L425,361 L421,358 L415,363 L416,369Z" fill="#EC861C"/>
<path d="M428,360 L425,370 L429,373 L436,368 L437,367 L435,361 L432,359Z" fill="#ED881E"/>
<path d="M439,361 L438,362 L439,368 L446,372 L450,370 L450,361 L447,358 L446,357Z" fill="#F49626"/>
<path d="M459,371 L461,370 L464,363 L459,358 L453,361 L452,362 L453,369Z" fill="#F19022"/>
<path d="M475,362 L473,361 L467,363 L464,370 L472,372 L476,367Z" fill="#F29325"/>
<path d="M485,357 L484,357 L477,362 L479,366 L487,372 L492,370 L492,364Z" fill="#F39526"/>
<path d="M287,374 L283,370 L277,372 L276,373 L276,378 L284,381 L287,379Z" fill="#F29224"/>
<path d="M297,382 L302,379 L301,373 L297,369 L289,373 L289,374 L289,379Z" fill="#ED881E"/>
<path d="M312,369 L310,369 L303,374 L304,379 L311,383 L313,382 L317,373Z" fill="#F39425"/>
<path d="M315,382 L316,384 L322,385 L327,380 L325,372 L324,372 L319,373Z" fill="#EC861D"/>
<path d="M341,374 L340,372 L336,371 L329,372 L328,373 L329,380 L337,384 L339,383Z" fill="#EE8A1F"/>
<path d="M350,371 L343,373 L341,381 L342,382 L348,383 L353,378 L353,374Z" fill="#F08E22"/>
<path d="M363,372 L356,374 L355,375 L356,378 L363,385 L369,380 L368,376Z" fill="#EC861D"/>
<path d="M371,375 L372,381 L375,382 L378,381 L381,371 L377,369Z" fill="#EC861D"/>
<path d="M388,371 L383,372 L381,381 L387,385 L394,380 L394,376Z" fill="#F29324"/>
<path d="M408,384 L409,382 L407,373 L402,372 L396,376 L396,380 L402,386Z" fill="#F39526"/>
<path d="M411,382 L412,383 L418,381 L420,373 L419,372 L415,371 L410,373Z" fill="#EF8C20"/>
<path d="M422,373 L420,382 L426,386 L431,382 L429,375 L423,372Z" fill="#EF8D21"/>
<path d="M444,381 L445,374 L439,369 L437,369 L431,374 L434,382 L440,383Z" fill="#ED881E"/>
<path d="M460,380 L458,373 L451,371 L448,374 L446,381 L454,385Z" fill="#F19023"/>
<path d="M463,372 L461,374 L462,380 L467,383 L472,380 L471,374Z" fill="#F19123"/>
<path d="M484,378 L485,373 L478,368 L473,374 L474,379 L480,381Z" fill="#F69A29"/>
<path d="M493,385 L497,385 L498,383 L497,373 L493,371 L488,374 L487,378Z" fill="#EB841C"/>
<path d="M275,393 L282,392 L283,383 L276,381 L272,384 L272,391Z" fill="#F59928"/>
<path d="M297,385 L296,383 L288,381 L285,383 L285,392 L289,395 L295,392Z" fill="#F69B29"/>
<path d="M309,394 L310,392 L311,385 L303,381 L299,383 L298,392 L303,395Z" fill="#EF8C20"/>
<path d="M312,393 L316,397 L323,396 L324,395 L322,387 L315,386 L313,387Z" fill="#F39526"/>
<path d="M335,392 L335,385 L329,382 L324,386 L324,387 L327,395 L330,396Z" fill="#F49727"/>
<path d="M340,384 L338,386 L338,392 L345,395 L349,394 L350,393 L347,386Z" fill="#F29324"/>
<path d="M356,381 L354,380 L349,385 L352,393 L354,395 L360,392 L361,388Z" fill="#EE8A1F"/>
<path d="M371,383 L363,388 L363,392 L367,396 L374,394 L374,384Z" fill="#F29224"/>
<path d="M379,396 L386,391 L385,387 L379,383 L377,383 L376,384 L376,394Z" fill="#F59928"/>
<path d="M388,391 L395,396 L401,390 L402,388 L394,382 L388,386Z" fill="#EC861D"/>
<path d="M411,386 L409,385 L403,389 L410,397 L415,393Z" fill="#F08F22"/>
<path d="M414,384 L413,386 L418,393 L420,394 L424,391 L425,387 L419,383Z" fill="#EB841B"/>
<path d="M427,388 L426,392 L431,396 L439,392 L439,386 L438,385 L433,384Z" fill="#F59827"/>
<path d="M446,383 L444,383 L441,386 L441,392 L446,397 L453,390 L452,387Z" fill="#F49626"/>
<path d="M462,382 L460,382 L454,387 L455,391 L462,395 L467,392 L466,385Z" fill="#EB851C"/>
<path d="M480,384 L479,382 L474,381 L469,385 L469,393 L474,395 L479,393Z" fill="#F39526"/>
<path d="M490,392 L492,387 L486,380 L484,380 L482,382 L481,393 L486,395Z" fill="#F39425"/>
<path d="M283,407 L288,403 L288,397 L283,394 L276,396 L275,404 L276,405Z" fill="#F19023"/>
<path d="M302,398 L297,394 L290,396 L290,398 L290,404 L296,407 L301,403Z" fill="#EF8C20"/>
<path d="M312,396 L305,397 L304,398 L304,403 L309,408 L314,405 L314,399Z" fill="#F69B29"/>
<path d="M317,399 L316,400 L316,406 L323,410 L329,402 L328,399 L326,397Z" fill="#F19022"/>
<path d="M337,394 L336,394 L331,398 L331,401 L336,405 L342,405 L344,397Z" fill="#E04E19"/>
<path d="M348,408 L354,403 L353,396 L351,396 L346,397 L344,405 L346,408Z" fill="#F39526"/>
<path d="M360,408 L362,409 L366,404 L366,397 L361,394 L356,397 L356,404Z" fill="#F19123"/>
<path d="M368,404 L369,405 L375,407 L379,403 L379,398 L375,396 L369,398Z" fill="#F19023"/>
<path d="M387,407 L389,407 L395,401 L394,398 L387,394 L381,398 L382,403Z" fill="#EE8B20"/>
<path d="M396,401 L402,405 L408,404 L409,399 L402,392 L396,398Z" fill="#F08F22"/>
<path d="M418,395 L411,399 L410,404 L414,408 L420,404 L420,396Z" fill="#F29325"/>
<path d="M426,394 L424,393 L422,395 L422,403 L429,406 L431,404 L431,398Z" fill="#ED891E"/>
<path d="M433,403 L434,404 L442,405 L445,403 L445,399 L441,394 L439,394 L433,398Z" fill="#EB841B"/>
<path d="M455,393 L454,393 L447,399 L447,402 L447,403 L456,406 L458,405 L461,397Z" fill="#EC861C"/>
<path d="M473,403 L473,397 L467,395 L463,397 L460,405 L466,409Z" fill="#F59827"/>
<path d="M488,406 L485,396 L480,395 L476,397 L475,402 L480,408 L487,408Z" fill="#F39526"/>
<path d="M500,399 L491,394 L487,396 L490,404 L491,405 L499,403Z" fill="#F08E21"/>
<path d="M274,417 L277,419 L282,416 L282,409 L275,407 L273,407Z" fill="#E4571E"/>
<path d="M285,408 L285,416 L291,419 L295,417 L294,409 L289,406Z" fill="#F19022"/>
<path d="M308,410 L307,409 L303,405 L301,405 L296,409 L297,416 L303,419 L306,417Z" fill="#EF8C20"/>
<path d="M315,408 L310,410 L308,416 L309,417 L316,419 L322,415 L322,413Z" fill="#F29324"/>
<path d="M335,407 L331,404 L330,404 L324,412 L325,415 L329,418 L334,416Z" fill="#EF8C20"/>
<path d="M345,416 L345,409 L342,407 L338,407 L337,416 L343,418Z" fill="#F39425"/>
<path d="M360,414 L360,411 L355,406 L347,410 L347,414 L349,416 L355,417Z" fill="#F19123"/>
<path d="M362,412 L370,419 L375,416 L374,409 L368,407 L363,411Z" fill="#F49626"/>
<path d="M376,416 L377,417 L382,418 L387,414 L387,409 L380,405 L376,409Z" fill="#F08F22"/>
<path d="M389,409 L390,415 L398,418 L400,417 L400,407 L395,404Z" fill="#F39525"/>
<path d="M402,416 L403,417 L408,418 L414,415 L414,410 L408,406 L403,407Z" fill="#EF8C20"/>
<path d="M416,414 L421,418 L427,415 L428,408 L421,406 L416,410Z" fill="#EF8D21"/>
<path d="M430,407 L430,415 L436,418 L440,416 L441,408 L433,406Z" fill="#F59928"/>
<path d="M447,419 L452,418 L455,408 L454,407 L446,404 L443,407 L443,416Z" fill="#F49727"/>
<path d="M465,412 L459,407 L457,407 L454,418 L459,420 L466,416Z" fill="#F39526"/>
<path d="M474,418 L479,410 L474,405 L467,412 L469,415Z" fill="#F69B29"/>
<path d="M477,417 L478,419 L484,421 L490,417 L488,411 L486,410 L481,411Z" fill="#EC871D"/>
<path d="M278,426 L279,428 L283,429 L287,428 L289,420 L283,418 L278,421Z" fill="#F19123"/>
<path d="M302,428 L302,426 L301,421 L297,418 L292,420 L290,428 L290,429 L295,432Z" fill="#EC871D"/>
<path d="M307,430 L315,428 L315,421 L307,419 L304,421 L304,427Z" fill="#EF8C20"/>
<path d="M328,420 L324,417 L318,420 L318,429 L322,431 L327,428Z" fill="#F49626"/>
<path d="M343,421 L342,419 L336,418 L330,419 L330,421 L330,427 L338,432 L343,429Z" fill="#EF8C20"/>
<path d="M355,428 L356,427 L355,419 L346,418 L345,420 L345,429 L348,430Z" fill="#E04E18"/>
<path d="M358,427 L360,429 L367,427 L369,421 L368,420 L361,415 L357,418Z" fill="#F49626"/>
<path d="M376,418 L371,421 L369,427 L375,433 L382,426 L380,420Z" fill="#EF8C20"/>
<path d="M389,416 L383,420 L383,425 L392,429 L395,427 L396,421Z" fill="#EE8B1F"/>
<path d="M399,420 L397,428 L402,431 L408,430 L407,420 L401,419Z" fill="#F69A28"/>
<path d="M410,419 L409,421 L411,430 L413,431 L420,428 L419,419 L415,416Z" fill="#F59827"/>
<path d="M422,427 L424,428 L433,426 L434,420 L429,416 L422,419Z" fill="#F39425"/>
<path d="M446,422 L442,418 L437,420 L435,427 L439,432 L441,432 L446,428Z" fill="#F19023"/>
<path d="M449,421 L448,422 L448,429 L453,431 L459,429 L458,422 L453,420Z" fill="#EF8C20"/>
<path d="M472,421 L471,419 L468,417 L461,422 L460,423 L461,429 L465,431 L470,429Z" fill="#F59928"/>
<path d="M476,420 L474,420 L472,428 L480,433 L484,430 L483,424Z" fill="#F49626"/>
<path d="M485,423 L486,430 L490,431 L496,429 L497,421 L491,419Z" fill="#ED881E"/>
<path d="M280,443 L284,441 L283,432 L277,429 L276,430 L274,439Z" fill="#F19123"/>
<path d="M285,440 L286,442 L291,442 L293,439 L293,434 L288,430 L285,432Z" fill="#ED891F"/>
<path d="M307,432 L304,429 L302,429 L296,434 L295,438 L305,440 L307,438Z" fill="#E2531C"/>
<path d="M310,432 L308,433 L309,438 L316,441 L320,438 L321,433 L320,432 L316,430Z" fill="#EB841B"/>
<path d="M335,439 L335,433 L329,429 L323,433 L322,438 L330,443Z" fill="#F29224"/>
<path d="M347,433 L344,431 L338,434 L337,440 L343,444 L345,444 L349,439Z" fill="#E2531B"/>
<path d="M359,431 L357,430 L350,432 L351,439 L356,441 L359,440Z" fill="#F69B29"/>
<path d="M374,436 L367,429 L361,431 L361,439 L368,442 L374,438Z" fill="#ED881E"/>
<path d="M383,441 L389,439 L390,431 L383,428 L376,435 L376,437Z" fill="#F08E22"/>
<path d="M394,443 L395,443 L400,439 L401,433 L396,430 L392,431 L390,439Z" fill="#F08F22"/>
<path d="M406,442 L412,440 L412,433 L410,432 L403,434 L402,440Z" fill="#F59928"/>
<path d="M419,445 L421,445 L426,440 L422,431 L421,430 L414,434 L414,440Z" fill="#EB851C"/>
<path d="M427,439 L432,440 L438,437 L438,434 L434,428 L425,430Z" fill="#F69B29"/>
<path d="M440,437 L445,442 L446,442 L451,440 L452,433 L446,430 L441,434Z" fill="#ED891E"/>
<path d="M463,442 L463,432 L460,430 L454,433 L454,441 L460,443Z" fill="#F39425"/>
<path d="M472,431 L466,432 L465,433 L465,441 L470,443 L478,439 L478,436Z" fill="#EF8C20"/>
<path d="M481,435 L480,439 L486,444 L491,442 L489,433 L485,432Z" fill="#EE8B1F"/>
<path d="M267,450 L267,451 L273,454 L279,451 L279,445 L272,441 L268,443Z" fill="#E03E19"/>
<path d="M281,450 L286,454 L292,454 L293,452 L290,444 L285,443 L282,445Z" fill="#ED8A1F"/>
<path d="M295,452 L297,453 L304,451 L304,442 L294,441 L293,444Z" fill="#F69C2A"/>
<path d="M309,440 L306,442 L306,451 L309,454 L315,451 L316,443 L315,442Z" fill="#F49828"/>
<path d="M322,441 L318,442 L317,450 L323,453 L328,451 L328,446Z" fill="#F59A29"/>
<path d="M343,453 L344,452 L343,447 L337,442 L335,442 L330,445 L330,452 L334,455Z" fill="#F59B2A"/>
<path d="M346,452 L348,453 L354,451 L355,444 L355,442 L350,441 L345,446Z" fill="#F8A12D"/>
<path d="M364,453 L367,451 L367,444 L361,441 L358,442 L356,451Z" fill="#F39727"/>
<path d="M382,444 L381,442 L375,440 L370,444 L369,452 L373,454 L381,451Z" fill="#F09023"/>
<path d="M389,454 L394,449 L393,445 L389,442 L384,443 L383,450 L387,454Z" fill="#F49928"/>
<path d="M402,453 L405,451 L406,444 L401,442 L396,445 L397,450Z" fill="#F09023"/>
<path d="M407,451 L408,452 L415,455 L419,451 L419,448 L412,442 L408,444Z" fill="#EE8C21"/>
<path d="M422,447 L421,451 L426,453 L433,452 L431,442 L427,442Z" fill="#EE8C21"/>
<path d="M435,452 L440,455 L444,452 L444,444 L439,440 L434,442Z" fill="#E64A20"/>
<path d="M445,451 L446,453 L450,454 L457,452 L459,445 L453,442 L447,444Z" fill="#E1411B"/>
<path d="M465,443 L461,445 L460,451 L466,457 L472,451 L470,445Z" fill="#E74C21"/>
<path d="M473,444 L472,445 L474,451 L480,453 L484,451 L485,446 L479,441 L478,441Z" fill="#E1401A"/>
<path d="M493,444 L487,446 L486,451 L492,456 L499,452 L498,445Z" fill="#F59A29"/>
<path d="M275,464 L278,467 L281,466 L284,457 L284,455 L280,452 L275,456Z" fill="#F8A12D"/>
<path d="M287,456 L283,465 L284,466 L288,467 L294,461 L294,457 L293,455Z" fill="#E4471F"/>
<path d="M304,467 L309,464 L308,455 L304,453 L297,455 L296,461 L303,467Z" fill="#F59B2A"/>
<path d="M311,464 L316,466 L321,463 L322,456 L321,455 L316,453 L311,455 L310,456Z" fill="#ED8B20"/>
<path d="M330,465 L332,464 L333,457 L328,453 L324,455 L323,462Z" fill="#E64A20"/>
<path d="M348,463 L347,456 L346,455 L335,458 L334,465 L335,466 L344,468Z" fill="#F09023"/>
<path d="M357,465 L359,465 L363,455 L362,454 L354,453 L349,455 L349,456 L350,462Z" fill="#E3441D"/>
<path d="M372,457 L368,453 L365,454 L361,464 L362,465 L368,466 L373,461Z" fill="#E54920"/>
<path d="M387,457 L382,452 L375,456 L374,457 L375,460 L382,464 L387,461Z" fill="#F69D2B"/>
<path d="M397,465 L399,464 L400,455 L395,452 L389,456 L389,460Z" fill="#E2431C"/>
<path d="M407,454 L402,455 L401,464 L406,467 L414,462 L414,458 L413,456Z" fill="#E64A20"/>
<path d="M421,453 L416,456 L416,462 L422,467 L427,463 L425,455Z" fill="#EF8F22"/>
<path d="M429,455 L427,456 L429,463 L437,464 L438,456 L434,454Z" fill="#F59A29"/>
<path d="M439,464 L440,465 L447,467 L451,463 L449,456 L445,454 L441,456Z" fill="#F79E2B"/>
<path d="M459,466 L464,463 L465,462 L465,459 L458,453 L452,456 L452,457 L453,463Z" fill="#F8A02D"/>
<path d="M468,464 L478,462 L479,455 L473,454 L467,460Z" fill="#F8A12D"/>
<path d="M480,461 L486,467 L489,464 L490,458 L484,453 L481,455Z" fill="#E54920"/>
<path d="M282,468 L279,469 L279,471 L284,479 L286,479 L292,476 L292,475 L289,469Z" fill="#F29425"/>
<path d="M296,476 L300,475 L302,469 L295,463 L291,468 L295,475Z" fill="#ED8B20"/>
<path d="M302,474 L303,475 L308,478 L316,474 L316,473 L315,469 L310,466 L304,470Z" fill="#EE8C21"/>
<path d="M329,473 L331,469 L330,467 L322,464 L317,468 L319,473 L322,476Z" fill="#EF8F22"/>
<path d="M335,468 L333,469 L331,473 L338,477 L343,473 L343,471Z" fill="#F09124"/>
<path d="M356,474 L357,468 L356,467 L350,464 L345,469 L346,473 L350,478Z" fill="#F8A02D"/>
<path d="M359,473 L364,478 L370,475 L367,469 L361,467 L359,468Z" fill="#F49928"/>
<path d="M375,462 L374,463 L369,468 L372,475 L376,477 L381,474 L381,467Z" fill="#F69D2B"/>
<path d="M396,468 L395,466 L387,463 L383,466 L383,474 L388,477 L392,475Z" fill="#ED8B20"/>
<path d="M400,466 L398,467 L395,474 L402,478 L406,476 L407,475 L406,469Z" fill="#EF8E22"/>
<path d="M408,468 L408,470 L409,476 L413,479 L421,472 L421,469 L415,464Z" fill="#E84E22"/>
<path d="M429,465 L423,470 L424,472 L430,475 L435,473 L436,467 L435,466Z" fill="#F19325"/>
<path d="M437,473 L442,478 L447,476 L448,475 L445,469 L439,467 L438,468Z" fill="#E64A20"/>
<path d="M454,477 L455,477 L458,468 L453,465 L448,469 L450,476Z" fill="#EF8E22"/>
<path d="M458,478 L466,479 L471,474 L468,466 L466,465 L460,468 L458,476Z" fill="#F8A02D"/>
<path d="M480,475 L484,473 L484,468 L479,464 L470,466 L470,467 L472,473Z" fill="#F69D2B"/>
<path d="M492,477 L499,475 L499,469 L491,466 L487,469 L486,473Z" fill="#F09123"/>
<path d="M281,488 L283,481 L279,474 L278,474 L271,481 L271,483 L279,488Z" fill="#EE8D21"/>
<path d="M290,490 L297,486 L296,479 L295,478 L286,481 L284,487 L284,488Z" fill="#ED8B20"/>
<path d="M304,490 L309,486 L307,480 L301,477 L299,478 L299,487Z" fill="#E5491F"/>
<path d="M321,484 L322,478 L318,475 L310,480 L312,486 L318,487Z" fill="#F59A29"/>
<path d="M336,488 L337,486 L336,479 L330,475 L324,478 L324,484 L331,489Z" fill="#F79E2B"/>
<path d="M349,481 L345,475 L344,475 L338,480 L339,487 L342,488 L349,487Z" fill="#F79E2B"/>
<path d="M359,476 L357,476 L351,481 L351,487 L354,489 L361,487 L362,479Z" fill="#F8A02C"/>
<path d="M365,479 L363,486 L363,488 L369,490 L374,488 L375,479 L371,477Z" fill="#ED8B20"/>
<path d="M388,488 L389,487 L387,478 L382,476 L377,479 L376,488 L381,491Z" fill="#F19325"/>
<path d="M392,488 L398,487 L400,481 L399,480 L393,476 L389,479Z" fill="#EF8E22"/>
<path d="M401,486 L401,488 L407,490 L413,483 L413,482 L407,478 L402,480Z" fill="#ED8A1F"/>
<path d="M415,482 L422,487 L427,487 L428,486 L428,477 L422,474 L415,480Z" fill="#E64A20"/>
<path d="M438,487 L440,480 L435,475 L430,478 L430,487 L433,489Z" fill="#F09023"/>
<path d="M441,486 L442,487 L447,489 L451,487 L453,479 L449,478 L443,480Z" fill="#F69C2A"/>
<path d="M457,479 L455,480 L454,488 L458,491 L466,488 L465,482Z" fill="#EE8D21"/>
<path d="M469,487 L472,490 L479,486 L479,477 L472,476 L467,481Z" fill="#F8A12D"/>
<path d="M481,486 L485,489 L491,486 L491,479 L485,475 L482,476Z" fill="#ED8B20"/>
<path d="M283,503 L285,503 L290,501 L291,500 L289,492 L282,489 L280,490 L279,498Z" fill="#F19325"/>
<path d="M303,493 L298,489 L292,491 L292,493 L293,500 L298,502 L303,495Z" fill="#F09123"/>
<path d="M316,498 L317,490 L316,489 L311,488 L305,492 L306,495 L312,499Z" fill="#DD3815"/>
<path d="M328,498 L330,490 L322,486 L319,489 L319,497 L324,500Z" fill="#F79E2B"/>
<path d="M331,497 L331,498 L336,502 L340,500 L341,490 L338,489 L333,490Z" fill="#F59A29"/>
<path d="M344,490 L343,491 L343,499 L349,503 L354,498 L354,491 L350,488Z" fill="#EF8E22"/>
<path d="M356,498 L363,502 L368,499 L368,492 L362,489 L356,491 L356,492Z" fill="#F79F2C"/>
<path d="M380,493 L375,489 L371,491 L370,499 L375,502 L380,500Z" fill="#F29425"/>
<path d="M386,502 L393,498 L392,491 L391,489 L382,493 L383,499Z" fill="#F8A02D"/>
<path d="M395,498 L401,501 L407,496 L406,492 L399,489 L395,490 L394,491Z" fill="#F09123"/>
<path d="M412,499 L417,498 L421,489 L420,488 L415,485 L408,492 L409,497Z" fill="#F19325"/>
<path d="M424,502 L425,502 L432,496 L432,491 L428,489 L423,489 L419,498 L420,499Z" fill="#F29526"/>
<path d="M440,489 L435,491 L434,492 L434,496 L439,501 L445,500 L446,499 L446,491Z" fill="#ED8A1F"/>
<path d="M457,493 L453,489 L448,491 L448,500 L452,503 L453,503 L457,499Z" fill="#F59A29"/>
<path d="M460,492 L459,494 L459,499 L467,500 L470,498 L470,492 L468,490Z" fill="#EE8D21"/>
<path d="M472,497 L478,502 L485,500 L486,498 L484,490 L480,488 L473,491Z" fill="#F49828"/>
<path d="M487,490 L486,491 L488,500 L498,496 L498,491 L498,490 L493,487Z" fill="#F29526"/>
<path d="M282,506 L278,500 L273,501 L271,512 L277,513 L282,510Z" fill="#E4461E"/>
<path d="M285,505 L284,510 L288,514 L299,510 L297,504 L292,502Z" fill="#F79E2C"/>
<path d="M301,510 L302,511 L310,508 L311,501 L305,497 L304,497 L299,503Z" fill="#F19325"/>
<path d="M324,503 L323,501 L317,499 L313,502 L313,508 L318,512 L322,511Z" fill="#F79E2C"/>
<path d="M327,511 L335,508 L335,503 L330,500 L325,502 L325,510Z" fill="#F79E2B"/>
<path d="M337,509 L344,514 L347,512 L348,506 L342,501 L337,504Z" fill="#F09023"/>
<path d="M349,510 L350,512 L357,514 L361,511 L361,504 L355,501 L350,505Z" fill="#F79E2C"/>
<path d="M369,514 L374,512 L374,505 L369,501 L363,505 L364,511Z" fill="#F19224"/>
<path d="M386,510 L386,505 L385,503 L382,501 L376,504 L377,512 L382,513Z" fill="#F19325"/>
<path d="M388,504 L389,509 L396,512 L399,510 L399,503 L393,501Z" fill="#F39727"/>
<path d="M401,509 L407,513 L409,513 L412,510 L411,501 L407,499 L402,503Z" fill="#F09023"/>
<path d="M423,508 L424,504 L418,500 L413,501 L414,510 L420,511Z" fill="#F09023"/>
<path d="M426,506 L435,512 L436,510 L437,502 L433,498 L426,504Z" fill="#EE8C21"/>
<path d="M447,502 L440,503 L439,510 L448,512 L452,506 L452,505Z" fill="#EF8E22"/>
<path d="M459,501 L454,504 L454,506 L461,512 L463,511 L466,502Z" fill="#F49928"/>
<path d="M476,503 L471,500 L468,502 L466,510 L467,511 L472,513 L476,509Z" fill="#E1411B"/>
<path d="M479,504 L478,509 L485,514 L490,511 L488,502 L487,501Z" fill="#F39727"/>
<path d="M285,526 L289,524 L288,516 L282,512 L278,515 L279,523Z" fill="#F69C2A"/>
<path d="M301,513 L299,512 L290,516 L291,523 L297,524 L301,520Z" fill="#E64B21"/>
<path d="M312,510 L304,512 L303,514 L304,519 L312,523 L316,521 L317,515Z" fill="#F59A29"/>
<path d="M327,514 L324,512 L319,514 L318,522 L325,525 L329,523Z" fill="#E2431C"/>
<path d="M341,520 L342,516 L336,511 L329,513 L332,523 L337,523Z" fill="#F69D2B"/>
<path d="M344,516 L344,520 L350,526 L356,522 L355,516 L349,513Z" fill="#EF8F22"/>
<path d="M358,515 L357,516 L358,522 L361,525 L369,521 L369,516 L363,513Z" fill="#F39727"/>
<path d="M382,523 L383,521 L381,515 L375,513 L371,516 L371,521 L374,524Z" fill="#F79E2B"/>
<path d="M386,522 L387,523 L393,521 L394,514 L388,511 L384,514Z" fill="#F8A02C"/>
<path d="M395,520 L396,522 L402,525 L408,521 L407,516 L400,512 L396,514Z" fill="#F69D2B"/>
<path d="M410,520 L416,524 L421,523 L422,522 L420,513 L413,512 L409,515Z" fill="#F39627"/>
<path d="M423,522 L425,523 L432,520 L433,515 L433,513 L425,509 L422,512Z" fill="#E64A20"/>
<path d="M436,513 L434,520 L437,523 L447,521 L446,514 L438,512Z" fill="#EE8D21"/>
<path d="M459,520 L460,513 L453,509 L449,514 L449,521 L453,524Z" fill="#F59A29"/>
<path d="M471,515 L465,513 L463,513 L462,520 L470,524 L473,522Z" fill="#E84E22"/>
<path d="M474,513 L475,522 L479,524 L483,522 L484,515 L477,511Z" fill="#F09023"/>
<path d="M497,522 L497,520 L495,514 L491,512 L487,516 L485,522 L491,525Z" fill="#E64A20"/>
<path d="M273,529 L273,533 L280,537 L285,535 L285,528 L279,526Z" fill="#F39626"/>
<path d="M288,537 L299,536 L296,526 L290,525 L288,527 L287,535Z" fill="#E4461E"/>
<path d="M302,535 L304,536 L309,533 L311,526 L310,525 L303,521 L299,526Z" fill="#F69D2B"/>
<path d="M323,533 L323,527 L316,524 L313,526 L312,533 L317,536Z" fill="#F59B29"/>
<path d="M336,526 L335,525 L331,524 L326,527 L326,533 L329,535 L336,532Z" fill="#ED8B20"/>
<path d="M343,522 L341,522 L338,525 L339,532 L342,535 L349,533 L350,528Z" fill="#F8A02D"/>
<path d="M357,537 L362,533 L360,526 L357,524 L352,528 L351,533 L356,537Z" fill="#F8A02C"/>
<path d="M370,535 L372,534 L373,526 L370,523 L363,527 L364,533Z" fill="#F49828"/>
<path d="M386,526 L384,524 L375,526 L374,534 L381,535 L385,533Z" fill="#F19224"/>
<path d="M388,525 L387,526 L388,532 L391,535 L401,530 L400,527 L394,523Z" fill="#EF8F22"/>
<path d="M403,527 L403,531 L408,537 L409,537 L414,533 L415,527 L415,525 L409,523Z" fill="#F39626"/>
<path d="M418,526 L417,534 L420,536 L426,533 L424,525Z" fill="#E1411B"/>
<path d="M428,532 L433,536 L437,533 L437,525 L433,522 L426,525Z" fill="#F49928"/>
<path d="M446,535 L453,532 L452,526 L448,523 L440,525 L439,526 L439,533Z" fill="#F49828"/>
<path d="M467,526 L460,522 L454,526 L455,532 L458,535 L465,534 L468,527Z" fill="#F49828"/>
<path d="M475,524 L470,527 L467,533 L468,535 L471,538 L479,534 L479,526Z" fill="#F19325"/>
<path d="M491,535 L492,533 L490,527 L484,524 L481,525 L481,535 L486,537Z" fill="#F8A02D"/>
<path d="M278,538 L271,534 L266,538 L266,544 L268,546 L276,544 L278,539Z" fill="#DD3815"/>
<path d="M287,545 L287,538 L285,537 L281,539 L278,545 L281,548 L283,548Z" fill="#F79E2B"/>
<path d="M296,550 L298,550 L303,545 L302,539 L301,538 L290,540 L290,545Z" fill="#F69D2B"/>
<path d="M305,544 L312,549 L317,545 L316,538 L311,535 L304,538Z" fill="#F79F2C"/>
<path d="M322,546 L327,543 L327,537 L325,535 L324,535 L318,537 L320,545Z" fill="#F29425"/>
<path d="M340,537 L337,534 L329,537 L330,544 L335,546 L339,543Z" fill="#EF8F22"/>
<path d="M354,545 L355,539 L350,535 L342,537 L342,544 L349,547Z" fill="#F09023"/>
<path d="M371,538 L370,537 L362,535 L357,539 L357,545 L359,546 L369,545Z" fill="#F69D2B"/>
<path d="M374,536 L373,538 L372,546 L375,549 L381,547 L381,546 L380,538Z" fill="#F8A12D"/>
<path d="M388,548 L393,545 L391,537 L386,535 L383,536 L382,538 L383,546Z" fill="#F69C2A"/>
<path d="M398,546 L407,541 L407,539 L401,532 L393,537 L394,544Z" fill="#DE3A17"/>
<path d="M409,542 L414,546 L420,544 L420,538 L416,535 L409,540Z" fill="#F8A02D"/>
<path d="M428,535 L422,537 L422,539 L423,544 L429,547 L431,545 L432,539Z" fill="#F79F2C"/>
<path d="M435,538 L434,546 L439,548 L444,545 L445,538 L445,537 L439,535Z" fill="#E74D22"/>
<path d="M448,536 L446,544 L454,547 L456,546 L456,536 L453,534Z" fill="#F49928"/>
<path d="M458,545 L459,546 L467,550 L471,546 L471,540 L466,536 L459,537Z" fill="#F59A29"/>
<path d="M481,536 L473,540 L473,545 L479,547 L484,544 L484,539Z" fill="#F59A29"/>
<path d="M499,546 L498,538 L492,536 L487,539 L486,544 L493,549Z" fill="#F39627"/>
<path d="M281,556 L281,551 L277,546 L270,548 L271,556 L278,558Z" fill="#ED8A1F"/>
<path d="M296,554 L289,547 L283,551 L283,554 L284,555 L294,557 L296,556Z" fill="#E74C21"/>
<path d="M299,553 L298,556 L303,560 L312,555 L311,550 L305,547Z" fill="#DD3916"/>
<path d="M322,558 L323,557 L321,548 L319,547 L314,550 L313,555 L317,559Z" fill="#F39627"/>
<path d="M325,557 L329,559 L334,556 L334,548 L328,546 L324,548Z" fill="#F79F2C"/>
<path d="M348,550 L348,549 L340,545 L336,548 L336,555 L344,559 L346,558Z" fill="#F8A12D"/>
<path d="M358,548 L356,547 L350,550 L349,558 L354,561 L361,558Z" fill="#F29426"/>
<path d="M372,554 L373,550 L371,547 L361,549 L363,558 L367,558Z" fill="#E84E23"/>
<path d="M375,553 L375,554 L381,558 L387,555 L388,551 L382,548 L376,550Z" fill="#F49828"/>
<path d="M399,557 L400,555 L397,547 L394,547 L390,550 L389,555 L393,559Z" fill="#F69D2B"/>
<path d="M402,555 L407,558 L411,555 L411,548 L408,544 L400,547Z" fill="#E2421B"/>
<path d="M413,554 L414,555 L422,559 L425,557 L427,549 L422,546 L414,548 L413,549Z" fill="#E74C21"/>
<path d="M430,548 L427,557 L430,559 L441,556 L439,550 L433,547Z" fill="#F49928"/>
<path d="M446,558 L450,557 L453,550 L452,548 L445,546 L441,550 L444,556Z" fill="#EF8E22"/>
<path d="M459,560 L465,555 L466,553 L457,548 L455,549 L452,557Z" fill="#F69C2A"/>
<path d="M468,551 L468,554 L472,559 L479,556 L478,549 L472,547Z" fill="#F8A12D"/>
<path d="M490,557 L491,550 L485,546 L480,549 L481,556 L487,559Z" fill="#EF8E22"/>
<path d="M266,562 L265,566 L273,571 L280,569 L278,559 L270,558Z" fill="#F09023"/>
<path d="M292,560 L291,558 L282,557 L280,560 L282,569 L285,571 L288,570Z" fill="#F29526"/>
<path d="M302,563 L297,558 L296,558 L291,570 L298,572 L303,569 L304,568Z" fill="#F8A02C"/>
<path d="M314,567 L316,561 L313,557 L304,562 L306,569 L309,570Z" fill="#F19325"/>
<path d="M325,560 L319,561 L317,566 L317,568 L323,571 L329,567 L328,561Z" fill="#F79E2B"/>
<path d="M331,561 L331,567 L337,571 L339,571 L342,560 L336,558Z" fill="#F39727"/>
<path d="M353,564 L348,560 L345,560 L342,570 L348,572 L353,567Z" fill="#F29526"/>
<path d="M368,568 L368,567 L366,560 L362,559 L355,564 L356,567 L361,572Z" fill="#E03E19"/>
<path d="M377,571 L380,569 L380,561 L373,556 L369,560 L370,567Z" fill="#F19325"/>
<path d="M382,568 L383,569 L389,570 L391,569 L392,561 L389,557 L387,557 L382,560Z" fill="#F19325"/>
<path d="M402,558 L394,561 L394,569 L401,570 L405,567 L405,560Z" fill="#DE3A16"/>
<path d="M408,559 L408,567 L414,569 L419,566 L420,561 L419,560 L412,557Z" fill="#E5481F"/>
<path d="M422,560 L421,566 L427,572 L428,572 L432,568 L430,562 L426,559Z" fill="#F29426"/>
<path d="M439,568 L445,565 L445,560 L443,558 L432,562 L434,567Z" fill="#F49928"/>
<path d="M452,571 L459,570 L460,568 L459,562 L451,559 L447,561 L447,565Z" fill="#F69C2A"/>
<path d="M461,561 L462,569 L471,566 L471,561 L467,557 L466,557Z" fill="#ED8B20"/>
<path d="M486,562 L486,560 L480,558 L474,561 L473,567 L480,572 L485,569Z" fill="#F8A02D"/>
<path d="M492,560 L489,561 L487,568 L493,572 L499,569 L500,568 L497,562Z" fill="#F8A02D"/>
<path d="M282,571 L274,574 L273,580 L276,584 L284,579 L284,573Z" fill="#DD3916"/>
<path d="M286,579 L289,583 L296,581 L297,580 L297,575 L289,572 L287,572 L286,573Z" fill="#F19325"/>
<path d="M303,584 L309,578 L307,571 L305,570 L299,574 L299,581 L301,584Z" fill="#F8A02D"/>
<path d="M322,574 L316,569 L310,572 L311,579 L316,581 L321,579Z" fill="#E84F23"/>
<path d="M331,569 L329,569 L324,574 L324,579 L329,582 L335,580 L336,574Z" fill="#EF8F23"/>
<path d="M339,573 L337,580 L341,583 L343,584 L348,580 L347,574 L341,572Z" fill="#F39627"/>
<path d="M360,574 L354,569 L349,574 L351,579 L357,581 L359,579Z" fill="#F79F2C"/>
<path d="M376,574 L375,572 L369,569 L362,574 L361,579 L370,582 L375,580Z" fill="#DD3916"/>
<path d="M382,571 L378,573 L377,580 L383,585 L389,582 L390,581 L389,572Z" fill="#E4461E"/>
<path d="M393,571 L391,572 L392,582 L396,584 L402,581 L401,572Z" fill="#F29526"/>
<path d="M413,571 L406,569 L403,572 L405,580 L408,582 L414,577Z" fill="#F49928"/>
<path d="M426,578 L426,574 L420,568 L415,571 L416,578 L422,580Z" fill="#DF3D19"/>
<path d="M438,579 L439,578 L439,571 L434,569 L429,574 L428,577 L433,580Z" fill="#F09124"/>
<path d="M444,581 L446,581 L450,577 L451,573 L445,568 L441,570 L441,579Z" fill="#F29526"/>
<path d="M452,577 L460,584 L464,581 L461,571 L453,573Z" fill="#ED8A1F"/>
<path d="M465,571 L464,572 L467,581 L472,582 L478,576 L478,573 L473,569Z" fill="#E03F1A"/>
<path d="M492,575 L485,571 L481,573 L480,576 L488,584 L493,582Z" fill="#F29426"/>
<g stroke="#6A4814" stroke-width="0.5"><rect x="300" y="140" width="160" height="56" fill="#A87A22" stroke="none"/>
<path d="M311,139 L311,141 L317,144 L322,139 L321,136 L314,132 L312,133Z" fill="#EE8721"/>
<path d="M375,143 L380,140 L381,137 L380,135 L373,132 L368,134 L368,138 L373,143Z" fill="#EB811D"/>
<path d="M385,144 L387,145 L393,143 L394,141 L391,134 L387,132 L385,132 L382,136 L382,141Z" fill="#F18E25"/>
<path d="M408,145 L409,145 L414,142 L413,134 L412,133 L404,135 L402,139 L402,141Z" fill="#F4962A"/>
<path d="M424,134 L421,132 L414,134 L414,135 L415,142 L421,145 L425,141 L426,140Z" fill="#F18F26"/>
<path d="M439,135 L438,139 L444,143 L445,143 L450,140 L449,135 L448,134 L443,133Z" fill="#ED851F"/>
<path d="M305,144 L304,145 L307,152 L311,154 L317,150 L317,145 L310,141 L309,141Z" fill="#F29127"/>
<path d="M319,145 L319,150 L324,153 L326,152 L329,144 L328,142 L323,140Z" fill="#F39328"/>
<path d="M340,151 L340,150 L339,144 L335,141 L330,143 L328,151 L328,152 L336,154Z" fill="#EC831E"/>
<path d="M341,150 L345,152 L352,151 L353,150 L353,143 L348,140 L347,140 L341,144Z" fill="#D9C037"/>
<path d="M354,150 L354,152 L356,152 L362,151 L363,150 L362,142 L358,141 L355,143Z" fill="#F19026"/>
<path d="M371,153 L373,145 L368,140 L367,139 L363,142 L364,150 L369,153Z" fill="#F08C24"/>
<path d="M385,146 L382,142 L380,142 L374,145 L373,152 L374,153 L381,154 L385,150Z" fill="#EB811D"/>
<path d="M395,144 L394,143 L387,145 L386,147 L386,150 L392,153 L393,153 L397,150Z" fill="#EB811D"/>
<path d="M408,147 L407,146 L401,141 L397,143 L398,150 L403,153 L405,153 L407,151Z" fill="#F29127"/>
<path d="M409,146 L408,150 L408,151 L415,153 L416,153 L421,150 L420,147 L415,144Z" fill="#EF8922"/>
<path d="M433,143 L432,142 L427,141 L422,146 L422,150 L426,153 L432,153 L433,151Z" fill="#F39328"/>
<path d="M438,140 L436,140 L434,142 L434,152 L436,154 L444,148 L443,145Z" fill="#EB801D"/>
<path d="M449,151 L453,150 L455,144 L454,142 L451,141 L445,145 L445,149Z" fill="#EB801D"/>
<path d="M324,154 L317,151 L312,154 L312,155 L312,161 L317,164 L322,162 L323,161Z" fill="#EC821E"/>
<path d="M327,153 L325,154 L324,162 L325,163 L328,164 L335,160 L335,156 L334,155Z" fill="#ED851F"/>
<path d="M342,152 L340,152 L336,156 L336,161 L340,165 L345,163 L346,162 L344,154Z" fill="#F08E25"/>
<path d="M347,153 L345,154 L347,162 L351,165 L352,165 L355,161 L355,153 L353,152Z" fill="#EE8922"/>
<path d="M364,162 L368,161 L369,154 L364,152 L356,153 L356,155 L357,160Z" fill="#EE8922"/>
<path d="M381,156 L380,156 L371,153 L370,155 L369,161 L374,167 L376,167 L383,162Z" fill="#ED8520"/>
<path d="M386,163 L392,159 L392,155 L387,151 L385,151 L382,156 L384,162Z" fill="#ED8620"/>
<path d="M393,159 L393,160 L400,163 L404,160 L404,155 L397,152 L393,155Z" fill="#F19026"/>
<path d="M413,162 L415,161 L415,155 L408,152 L407,152 L405,155 L405,160 L408,162Z" fill="#EE8721"/>
<path d="M416,161 L416,162 L419,164 L423,163 L425,155 L425,154 L422,151 L421,151 L417,155Z" fill="#F29127"/>
<path d="M427,154 L426,155 L425,162 L431,166 L432,166 L437,162 L436,156 L433,154Z" fill="#F18E25"/>
<path d="M449,159 L449,152 L444,150 L438,154 L437,156 L439,161 L444,163 L449,160Z" fill="#EC841F"/>
<path d="M316,166 L316,165 L311,163 L306,167 L305,170 L310,175 L311,175 L316,171Z" fill="#F19026"/>
<path d="M318,165 L317,166 L317,171 L318,172 L323,175 L328,172 L328,171 L326,165 L323,163Z" fill="#F29228"/>
<path d="M339,166 L336,162 L335,162 L329,165 L328,166 L329,171 L334,173 L338,171Z" fill="#EC831E"/>
<path d="M351,172 L352,171 L352,166 L347,164 L340,166 L340,172 L345,174Z" fill="#F19026"/>
<path d="M356,173 L361,172 L364,165 L363,163 L356,162 L353,166 L353,171Z" fill="#F19026"/>
<path d="M363,172 L363,173 L368,175 L374,171 L374,168 L369,162 L368,162 L365,164Z" fill="#EE8821"/>
<path d="M386,164 L383,163 L376,169 L376,171 L380,176 L382,176 L388,172Z" fill="#EF8B23"/>
<path d="M393,161 L388,163 L387,164 L390,172 L394,173 L397,172 L399,165 L398,163Z" fill="#F4962A"/>
<path d="M408,173 L409,171 L408,164 L404,162 L401,164 L399,173 L401,174Z" fill="#EE8922"/>
<path d="M410,172 L413,174 L415,174 L418,171 L418,165 L415,163 L410,163 L409,165Z" fill="#F4962A"/>
<path d="M419,170 L420,171 L427,175 L431,172 L431,168 L424,164 L420,165Z" fill="#F29328"/>
<path d="M432,172 L437,176 L439,176 L445,172 L443,165 L439,163 L438,163 L432,168Z" fill="#EF8A23"/>
<path d="M456,164 L455,163 L450,161 L445,164 L445,165 L446,172 L451,174 L456,172Z" fill="#F29328"/>
<path d="M322,183 L323,177 L322,175 L317,173 L311,176 L311,179 L312,180 L318,184Z" fill="#EC831E"/>
<path d="M324,183 L331,185 L333,183 L334,175 L333,174 L329,173 L324,176 L323,182Z" fill="#F18F25"/>
<path d="M344,183 L344,175 L339,173 L335,174 L335,183 L341,185Z" fill="#F39428"/>
<path d="M356,175 L356,174 L353,172 L346,175 L346,177 L346,182 L351,185 L353,185 L356,181Z" fill="#F4972A"/>
<path d="M358,174 L357,176 L358,181 L364,185 L368,184 L368,182 L367,176 L362,174Z" fill="#F08C24"/>
<path d="M369,176 L368,177 L370,183 L375,186 L380,183 L380,177 L375,172 L374,172Z" fill="#F18F26"/>
<path d="M392,174 L389,173 L382,177 L382,183 L387,185 L390,184 L392,175Z" fill="#F08C24"/>
<path d="M398,174 L394,175 L392,183 L392,185 L397,186 L402,184 L402,183 L400,176Z" fill="#F08C24"/>
<path d="M410,174 L402,176 L404,184 L407,185 L414,180 L413,176Z" fill="#F39529"/>
<path d="M415,175 L415,176 L415,180 L421,183 L424,182 L426,177 L425,175 L419,172Z" fill="#EF8B23"/>
<path d="M428,175 L425,181 L426,183 L433,185 L437,183 L437,178 L432,174 L431,174Z" fill="#ED8620"/>
<path d="M439,178 L439,183 L442,185 L450,183 L451,182 L451,176 L447,173 L445,173Z" fill="#EE8721"/>
<path d="M318,187 L317,185 L311,181 L306,185 L305,186 L306,191 L313,194 L317,192Z" fill="#F08E25"/>
<path d="M329,192 L330,191 L329,186 L323,184 L319,186 L318,192 L320,194Z" fill="#EC831F"/>
<path d="M331,191 L334,194 L340,193 L341,192 L341,187 L334,184 L331,186Z" fill="#F29227"/>
<path d="M346,184 L344,184 L342,187 L342,193 L346,196 L352,191 L353,190 L351,186Z" fill="#F29127"/>
<path d="M358,183 L356,183 L353,186 L354,190 L354,191 L361,193 L362,192 L363,187Z" fill="#EF8A23"/>
<path d="M365,186 L363,192 L364,193 L369,195 L375,193 L375,188 L374,186 L369,184Z" fill="#ED8520"/>
<path d="M385,194 L386,193 L386,186 L381,184 L376,187 L376,193 L379,196 L380,196Z" fill="#DDCC3E"/>
<path d="M390,196 L392,197 L396,192 L396,188 L391,185 L388,186 L387,187 L387,194Z" fill="#F39529"/>
<path d="M397,192 L398,193 L404,196 L408,194 L408,192 L406,186 L403,185 L398,187Z" fill="#F39328"/>
<path d="M410,193 L415,195 L420,192 L421,185 L420,184 L415,181 L408,186Z" fill="#F39529"/>
<path d="M432,188 L431,186 L424,183 L422,185 L421,191 L422,192 L428,195 L431,193Z" fill="#EC831F"/>
<path d="M439,184 L437,184 L434,186 L432,193 L433,194 L438,197 L439,197 L442,192 L442,186Z" fill="#ED8520"/>
<path d="M450,194 L454,191 L453,186 L451,184 L443,186 L443,187 L444,192Z" fill="#EC821E"/>
<path d="M320,196 L317,194 L314,195 L311,202 L311,204 L316,207 L318,207 L322,201Z" fill="#EB801D"/>
<path d="M331,193 L329,193 L322,195 L322,197 L324,201 L329,203 L331,202 L333,196Z" fill="#EE8821"/>
<path d="M346,198 L342,194 L334,195 L333,196 L333,202 L341,207 L346,203Z" fill="#EF8A23"/>
<path d="M347,197 L347,198 L347,202 L353,204 L358,203 L360,195 L359,194 L353,192Z" fill="#F29328"/>
<path d="M363,194 L361,195 L359,203 L364,206 L368,204 L369,203 L368,196Z" fill="#F08C24"/>
<path d="M378,203 L379,197 L376,194 L374,194 L370,196 L370,197 L370,203 L376,204Z" fill="#ED8620"/>
<path d="M391,199 L387,195 L386,195 L380,197 L379,202 L380,203 L387,205 L391,203Z" fill="#EE8721"/>
<path d="M392,197 L392,199 L392,202 L396,205 L401,203 L403,198 L402,196 L397,194Z" fill="#F08D25"/>
<path d="M414,204 L415,203 L413,196 L409,194 L404,197 L403,204 L408,208 L410,208Z" fill="#EE8721"/>
<path d="M419,205 L426,202 L427,197 L426,195 L421,193 L415,196 L416,203Z" fill="#EB801C"/>
<path d="M427,201 L428,203 L434,207 L439,202 L438,198 L432,195 L428,196Z" fill="#D7BD35"/>
<path d="M450,196 L449,194 L443,194 L439,198 L440,203 L445,205 L448,204Z" fill="#F18F25"/>
<path d="M452,194 L450,203 L451,204 L456,204 L460,201 L459,197 L455,193Z" fill="#F4962A"/>
<path d="M317,209 L310,204 L306,206 L305,212 L310,217 L312,217 L317,212Z" fill="#F4962A"/>
<path d="M328,205 L327,203 L323,203 L318,208 L318,211 L324,214 L326,214Z" fill="#F08C24"/>
<path d="M330,204 L329,205 L328,213 L336,215 L339,214 L340,208 L332,203Z" fill="#F29328"/>
<path d="M352,206 L351,205 L346,204 L341,208 L340,214 L344,217 L351,215 L352,214Z" fill="#EF8B23"/>
<path d="M354,205 L353,207 L353,215 L357,217 L364,214 L364,213 L363,207 L359,205Z" fill="#ED8620"/>
<path d="M365,207 L364,208 L365,214 L367,216 L376,212 L376,206 L375,205 L370,204Z" fill="#F39529"/>
<path d="M386,207 L385,206 L378,204 L377,206 L377,213 L380,215 L384,214Z" fill="#F29228"/>
<path d="M393,204 L391,204 L387,207 L386,214 L390,216 L391,216 L395,212 L395,206Z" fill="#EE8721"/>
<path d="M402,215 L403,215 L408,212 L409,210 L408,209 L401,205 L397,206 L396,211 L397,213Z" fill="#EF8A23"/>
<path d="M413,217 L415,218 L422,213 L419,206 L416,205 L415,205 L410,210 L410,212Z" fill="#F08C24"/>
<path d="M423,213 L428,215 L429,215 L432,213 L433,208 L427,203 L422,205 L421,207Z" fill="#F19026"/>
<path d="M439,217 L441,217 L445,215 L446,214 L445,206 L440,204 L434,208 L433,213 L433,214Z" fill="#EB801D"/>
<path d="M456,207 L455,205 L449,205 L446,206 L446,207 L447,214 L450,216 L456,214 L457,213Z" fill="#F4962A"/>
<path d="M312,220 L317,226 L322,224 L323,223 L324,216 L318,213 L312,218Z" fill="#F4972A"/>
<path d="M327,214 L325,216 L324,223 L328,226 L334,224 L335,217 L334,216Z" fill="#F29328"/>
<path d="M356,219 L352,216 L345,218 L345,219 L346,223 L352,225 L355,224Z" fill="#F39529"/>
<path d="M377,214 L376,214 L368,217 L368,218 L370,224 L374,226 L378,224 L380,216Z" fill="#F39529"/>
<path d="M390,222 L391,221 L389,217 L385,215 L381,216 L380,224 L380,225 L384,226Z" fill="#F18E25"/>
<path d="M400,223 L402,217 L401,216 L396,213 L391,217 L392,221 L396,225 L398,225Z" fill="#F29127"/>
<path d="M414,219 L410,214 L408,213 L403,216 L402,222 L403,223 L408,224 L413,221Z" fill="#F4972A"/>
<path d="M419,226 L420,226 L427,223 L428,217 L427,216 L423,215 L415,219 L415,221Z" fill="#EC821E"/>
<path d="M441,218 L440,219 L441,225 L442,226 L443,226 L450,223 L450,218 L449,216 L446,215Z" fill="#F4962A"/>
</g>
<path d="M320,169 C322,162 326,157 331,154 Q334,149 339,151 Q343,146 349,149 Q354,145 360,148 Q366,144 372,147 Q378,143 384,146 Q390,143 396,146 Q402,143 408,146 Q414,143 420,146 Q427,144 432,148 Q439,148 441,152 Q445,154 444,160" fill="none" stroke="#F2D040" stroke-width="2.2" opacity="0.75"/>
</g>
<!-- output 1 port -->
<path d="M285,376 L259,376 Q255,377 255,384 C255,400 258,416 272,430 L285,431 Z" fill="#CED2DE" stroke="#4A5274" stroke-width="1"/>
<path d="M259,377 L284,377 L284,386 L259,386 Z" fill="#E4E6EE" stroke="#4A5274" stroke-width="0.8"/>

<!-- slab -->
<path d="M333,565 L435,545 L435,564 L339,590 L333,587 Z" fill="#7A3C22" stroke="#4A2010" stroke-width="1"/>
<path d="M333,565 L435,545 L435,549 L336,569 Z" fill="#9A5030"/>

<!-- ===== thin tubes front ===== -->
<g fill="none">
<path d="M336,279 L250,305 Q241,308 241,318 L238,350" stroke="#2A3050" stroke-width="6"/>
<path d="M336,279 L250,305 Q241,308 241,318 L238,350" stroke="#D4D8E2" stroke-width="3.5"/>
<path d="M336,285 L276,302 Q268,305 268,314 L268,342" stroke="#2A3050" stroke-width="6"/>
<path d="M336,285 L276,302 Q268,305 268,314 L268,342" stroke="#D4D8E2" stroke-width="3.5"/>
<path d="M347,499 L312,508 Q303,511 303,520 L303,543" stroke="#1E2440" stroke-width="9"/>
<path d="M347,499 L312,508 Q303,511 303,520 L303,543" stroke="#CDD1DC" stroke-width="6.5"/>
</g>
<circle cx="237" cy="354" r="7" fill="#B4B8C6" stroke="#3A4466" stroke-width="1.2"/>
<circle cx="268" cy="347" r="7" fill="#B4B8C6" stroke="#3A4466" stroke-width="1.2"/>
<circle cx="302.5" cy="550.5" r="9" fill="#B4B8C6" stroke="#3A4466" stroke-width="1.2"/>

<!-- coke text -->
<g transform="translate(387,0) skewY(-14.7)" font-size="17" text-anchor="middle" style="fill:#2A1A0C;stroke:#2A1A0C;stroke-width:0.45">
<text x="0" y="361.4" transform="translate(0,361.4) skewX(-7) translate(0,-361.4)">Bed of</text>
<text x="0" y="381" transform="translate(0,381.0) skewX(-7) translate(0,-381.0)">Coke, heated</text>
<text x="0" y="400.2" transform="translate(0,400.2) skewX(-7) translate(0,-400.2)">by electric induction</text>
<text x="0" y="418.6" transform="translate(0,418.6) skewX(-7) translate(0,-418.6)">(Coke = Secondary Coil)</text>
<text x="0" y="438.2" transform="translate(0,438.2) skewX(-7) translate(0,-438.2)">ca. 1300 °C</text>
</g>

<!-- ===== arrows ===== -->
<g fill="#C6C7D4" stroke="#140E08" stroke-width="3" stroke-linejoin="miter">
<path d="M92.4,57.5 L102.6,79.3 L96.6,79.3 L98.9,147.6 L87.6,146.1 L88.5,79.3 L79.5,79.3 Z"/>
<path d="M96,188.5 L106.6,209.8 L100,210 L102.5,279.5 L91.2,278 L92,211.2 L82.6,211.4 Z"/>
<path d="M380.5,554.5 L390.8,554.5 L390,623.5 L398.5,623.5 L388.6,643 L374.5,623.5 L385,623.5 Z"/>
<path fill="#E2E2EC" d="M470,43.5 C455,38 430,37 410,44 C392,52 382,72 380.5,115 L368.5,117 L379.2,144 L388.5,119 L383.5,116 C384,92 388,76 400,66 C412,57 430,55 445,52 C455,50 462,47 470,43.5 Z"/>
<path fill="#DCDAEA" d="M99.5,356 L129,371.5 L122,376 C134,393 148,404 165,407.5 C200,413 250,404 284,398 C250,408 225,417.5 200,418.5 C170,419.5 150,413 138,403 C129,395 121,387 116,381.5 L103.5,383.5 Z"/>
</g>
<g stroke="#140E08" stroke-width="2.6">
<line x1="480" y1="199" x2="610" y2="199"/>
<line x1="568" y1="232" x2="601" y2="254.5"/>
</g>
<path d="M465,199 L484,191.5 L479,199 L484,206.5 Z" fill="#140E08"/>
<path d="M557.8,224 L576,228.5 L569.5,232.5 L567,240 Z" fill="#140E08"/>


</g>

<g id="chem" font-size="13">
<text x="68.2" y="42.8">H</text><text x="78.3" y="48" font-size="11.5">3</text><text x="86.5" y="42.8">P</text><text x="94.9" y="42.8">O</text><text x="104.3" y="48" font-size="11.5">4</text>
<text x="104.8" y="116.5">H</text><text x="115" y="121.3" font-size="11.5">2</text><text x="122.9" y="116.5">O</text>
<text x="72" y="174.8">P</text><text x="81.1" y="179" font-size="11.5">2</text><text x="89.5" y="174.8">O</text><text x="101" y="178.5" font-size="11.5">5</text>
<text x="106.2" y="243.1">O</text><text x="115" y="247.4" font-size="11.5">2</text>
</g>
<!-- TEXT -->
<g id="labels" font-size="14">
<text x="475.5" y="47.6" font-size="17">Input: Sewage Sludge Ash</text>
<text x="611" y="204">Primary Coil</text>
<text x="611" y="220">and Water Cooling</text>
<text x="608.5" y="259">optional:</text>
<text x="608.5" y="275">Gas Distribution</text>
<text x="608.5" y="291.5">(e.g. O<tspan font-size="8" dy="2">2</tspan><tspan dy="-2">, H</tspan><tspan font-size="8" dy="2">2</tspan><tspan dy="-2">O)</tspan></text>
<text x="14.8" y="306.5">Output 1: destilled</text>
<text x="14.8" y="322">Phosphorous + CO</text>
<text x="14.8" y="337.5">to Afterburning Chamber</text>
<text x="410.8" y="633.8">Output 2:</text>
<text x="410.8" y="649.3">Molten Slag, Metal Melt, Iron Phpsphorous Alloy</text>
</g>
</svg>
</body></html>
